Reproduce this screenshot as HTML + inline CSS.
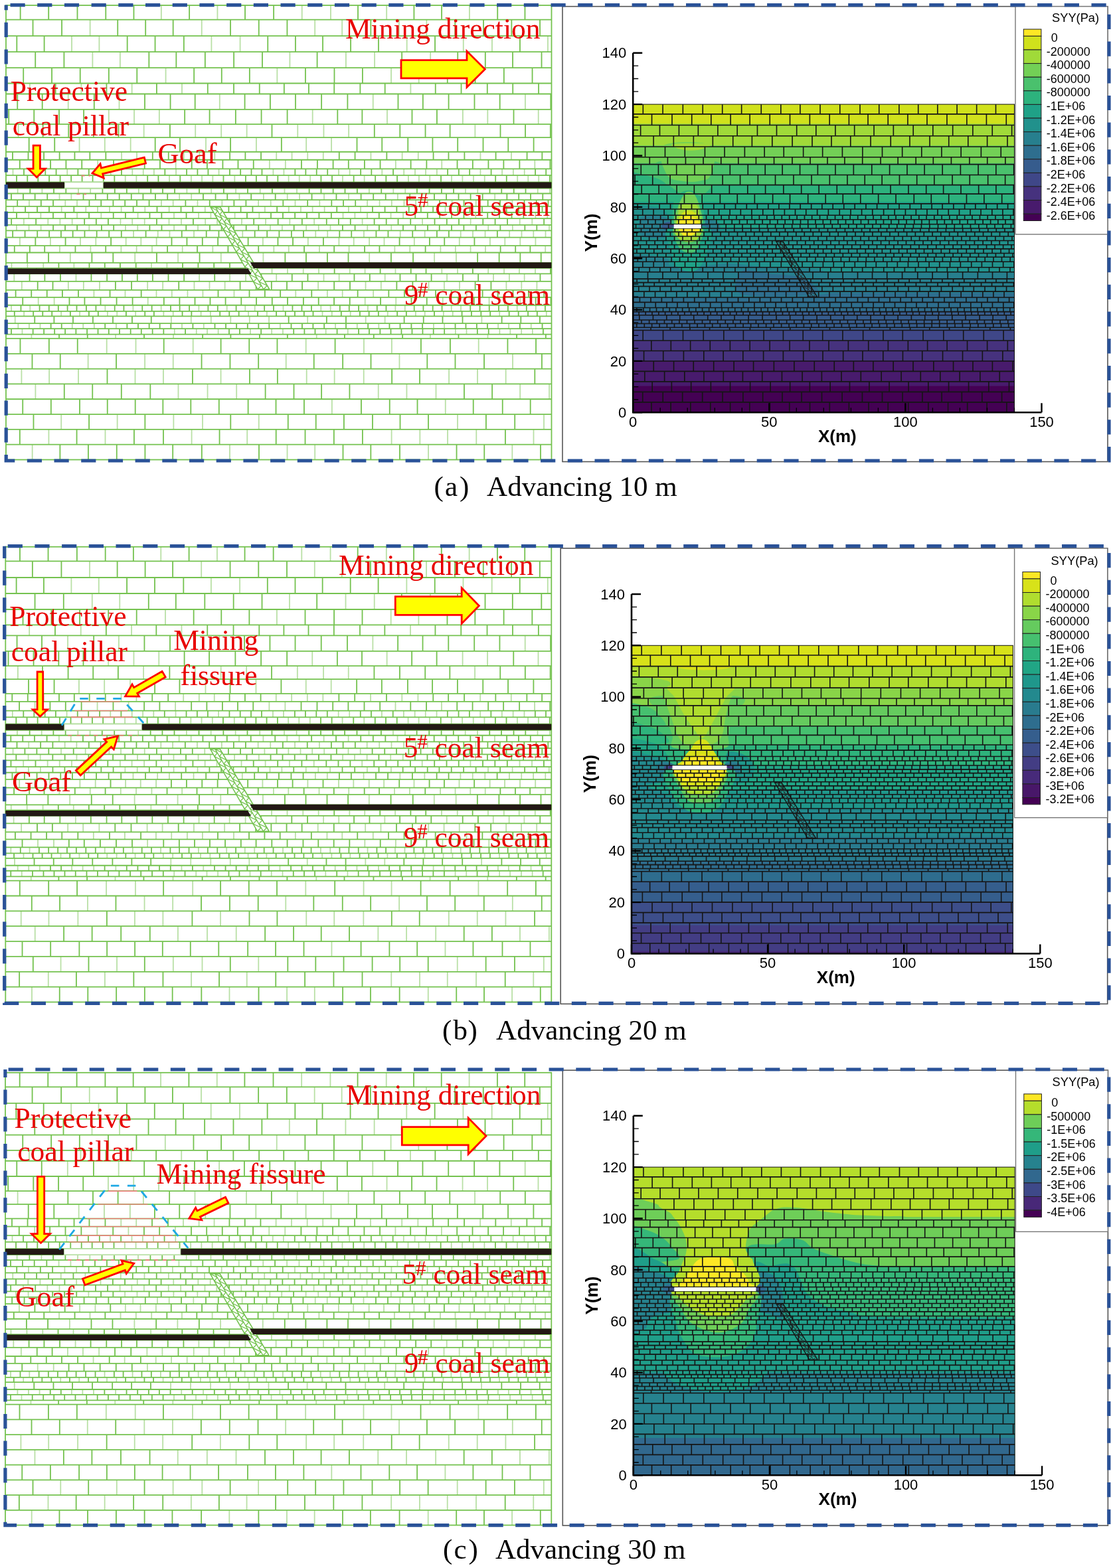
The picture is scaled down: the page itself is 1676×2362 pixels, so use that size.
<!DOCTYPE html>
<html><head><meta charset="utf-8"><title>Figure</title>
<style>html,body{margin:0;padding:0;background:#fff;}svg{display:block;}</style>
</head><body>
<svg width="1676" height="2362" viewBox="0 0 1676 2362">
<defs>
<path id="mh" vector-effect="non-scaling-stroke" d="M0 4H140M0 8H140M0 12H140M0 16H140M0 20H140M0 24H140M0 28H140M0 32H140M0 33.1H140M0 34.6H140M0 36H140M0 37.9H140M0 39.2H140M0 40.8H140M0 42.9H140M0 44.8H140M0 47.1H140M0 49.1H140M0 50.6H140M0 52H140M0 54.7H140M0 56.5H140M0 58.7H140M0 60.5H140M0 62H140M0 63.7H140M0 65.3H140M0 66.9H140M0 68.6H140M0 70.3H140M0 71.7H140M0 73.3H140M0 75.1H140M0 76.8H140M0 79.2H140M0 81.3H140M0 85.1H140M0 88.6H140M0 92.5H140M0 96.6H140M0 99.4H140M0 103.5H140M0 107.7H140M0 111.9H140M0 116.2H140"/>
<path id="ms" vector-effect="non-scaling-stroke" d="M13.87 0V4M21.12 0V4M28.42 0V4M35.69 0V4M42.81 0V4M50.25 0V4M64.93 0V4M86.49 0V4M93.62 0V4M101.06 0V4M115.64 0V4M122.75 0V4M137.19 0V4M3.55 4V8M18.16 4V8M32.88 4V8M40.39 4V8M54.8 4V8M69.31 4V8M76.78 4V8M84.16 4V8M91.5 4V8M128.15 4V8M7.07 8V12M21.32 8V12M35.68 8V12M57.65 8V12M72.39 8V12M79.54 8V12M86.73 8V12M94.07 8V12M101.15 8V12M108.39 8V12M123.2 8V12M130.58 8V12M4.3 12V16M11.56 12V16M18.92 12V16M26.03 12V16M33.18 12V16M40.28 12V16M47.43 12V16M54.67 12V16M62.14 12V16M69.28 12V16M76.51 12V16M91.17 12V16M98.46 12V16M105.58 12V16M119.93 12V16M127.43 12V16M134.58 12V16M14.96 16V20M22.2 16V20M29.62 16V20M37.04 16V20M66.57 16V20M73.88 16V20M80.97 16V20M88.18 16V20M117.59 16V20M124.77 16V20M25.99 20V24M47.88 20V24M62.54 20V24M69.68 20V24M99.04 20V24M106.18 20V24M135.71 20V24M6.73 24V28M13.93 24V28M28.3 24V28M50.2 24V28M57.51 24V28M64.79 24V28M79.03 24V28M86.43 24V28M93.65 24V28M108.1 24V28M115.29 24V28M122.71 24V28M137.52 24V28M3.66 28V32M11.05 28V32M18.36 28V32M40.51 28V32M55.15 28V32M62.42 28V32M69.61 28V32M84.46 28V32M106.5 28V32M114 28V32M128.74 28V32M136.01 28V32M13.64 32V33.1M20.92 32V33.1M35.45 32V33.1M50.47 32V33.1M57.67 32V33.1M65.09 32V33.1M72.23 32V33.1M86.9 32V33.1M94.38 32V33.1M101.77 32V33.1M116.14 32V33.1M131.07 32V33.1M138.53 32V33.1M1.36 33.1V34.6M6.93 33.1V34.6M9.74 33.1V34.6M12.47 33.1V34.6M15.19 33.1V34.6M17.96 33.1V34.6M20.81 33.1V34.6M23.61 33.1V34.6M26.38 33.1V34.6M29.14 33.1V34.6M31.98 33.1V34.6M34.73 33.1V34.6M37.6 33.1V34.6M40.45 33.1V34.6M46.03 33.1V34.6M57.26 33.1V34.6M59.98 33.1V34.6M65.47 33.1V34.6M73.83 33.1V34.6M76.59 33.1V34.6M79.33 33.1V34.6M84.97 33.1V34.6M90.5 33.1V34.6M93.21 33.1V34.6M96.01 33.1V34.6M98.76 33.1V34.6M101.48 33.1V34.6M104.21 33.1V34.6M106.93 33.1V34.6M109.7 33.1V34.6M112.51 33.1V34.6M120.97 33.1V34.6M123.85 33.1V34.6M137.86 33.1V34.6M11.53 34.6V36M14.27 34.6V36M25.43 34.6V36M31.08 34.6V36M33.91 34.6V36M36.75 34.6V36M39.48 34.6V36M42.32 34.6V36M47.96 34.6V36M53.6 34.6V36M56.42 34.6V36M59.16 34.6V36M62 34.6V36M64.81 34.6V36M67.54 34.6V36M73.2 34.6V36M76 34.6V36M78.8 34.6V36M81.66 34.6V36M87.26 34.6V36M92.91 34.6V36M98.41 34.6V36M101.15 34.6V36M104.03 34.6V36M106.88 34.6V36M115.3 34.6V36M118.01 34.6V36M120.81 34.6V36M123.55 34.6V36M131.89 34.6V36M137.63 34.6V36M7.37 36V37.9M12.34 36V37.9M17.21 36V37.9M22.31 36V37.9M27.44 36V37.9M32.37 36V37.9M37.28 36V37.9M72.54 36V37.9M82.29 36V37.9M87.25 36V37.9M102.19 36V37.9M107.15 36V37.9M112.05 36V37.9M117.17 36V37.9M127.24 36V37.9M132.13 36V37.9M137.01 36V37.9M2.18 37.9V39.2M7.02 37.9V39.2M9.42 37.9V39.2M11.8 37.9V39.2M16.51 37.9V39.2M21.29 37.9V39.2M23.66 37.9V39.2M30.83 37.9V39.2M35.66 37.9V39.2M37.98 37.9V39.2M45.26 37.9V39.2M47.61 37.9V39.2M54.91 37.9V39.2M57.31 37.9V39.2M59.76 37.9V39.2M64.59 37.9V39.2M69.38 37.9V39.2M71.72 37.9V39.2M74.13 37.9V39.2M76.49 37.9V39.2M78.82 37.9V39.2M86.03 37.9V39.2M90.82 37.9V39.2M93.16 37.9V39.2M95.58 37.9V39.2M100.41 37.9V39.2M102.74 37.9V39.2M109.92 37.9V39.2M117.01 37.9V39.2M119.45 37.9V39.2M121.91 37.9V39.2M124.27 37.9V39.2M129.12 37.9V39.2M131.51 37.9V39.2M133.97 37.9V39.2M136.31 37.9V39.2M3.83 39.2V40.8M8.62 39.2V40.8M11.04 39.2V40.8M13.43 39.2V40.8M15.78 39.2V40.8M18.15 39.2V40.8M20.61 39.2V40.8M23.08 39.2V40.8M27.9 39.2V40.8M30.24 39.2V40.8M34.98 39.2V40.8M37.43 39.2V40.8M42.26 39.2V40.8M44.59 39.2V40.8M47.05 39.2V40.8M51.87 39.2V40.8M54.33 39.2V40.8M59.07 39.2V40.8M66.32 39.2V40.8M68.68 39.2V40.8M73.53 39.2V40.8M75.92 39.2V40.8M78.39 39.2V40.8M85.69 39.2V40.8M88.07 39.2V40.8M90.51 39.2V40.8M95.23 39.2V40.8M97.56 39.2V40.8M104.76 39.2V40.8M107.1 39.2V40.8M109.53 39.2V40.8M111.89 39.2V40.8M119.17 39.2V40.8M121.61 39.2V40.8M124.02 39.2V40.8M126.46 39.2V40.8M128.82 39.2V40.8M133.58 39.2V40.8M138.37 39.2V40.8M4.3 40.8V42.9M16.27 40.8V42.9M20.18 40.8V42.9M24.29 40.8V42.9M28.39 40.8V42.9M32.48 40.8V42.9M40.53 40.8V42.9M44.55 40.8V42.9M48.49 40.8V42.9M52.4 40.8V42.9M56.34 40.8V42.9M60.38 40.8V42.9M64.26 40.8V42.9M68.3 40.8V42.9M72.26 40.8V42.9M76.33 40.8V42.9M80.22 40.8V42.9M84.2 40.8V42.9M88.23 40.8V42.9M96.13 40.8V42.9M104.04 40.8V42.9M108 40.8V42.9M116.06 40.8V42.9M120.11 40.8V42.9M135.94 40.8V42.9M139.83 40.8V42.9M2.49 42.9V44.8M6.52 42.9V44.8M10.52 42.9V44.8M14.47 42.9V44.8M18.57 42.9V44.8M26.68 42.9V44.8M34.71 42.9V44.8M54.45 42.9V44.8M62.46 42.9V44.8M66.44 42.9V44.8M70.41 42.9V44.8M78.44 42.9V44.8M90.26 42.9V44.8M98.22 42.9V44.8M102.24 42.9V44.8M106.28 42.9V44.8M110.26 42.9V44.8M114.29 42.9V44.8M122.3 42.9V44.8M126.22 42.9V44.8M130.12 42.9V44.8M134.11 42.9V44.8M138.09 42.9V44.8M8.13 44.8V47.1M12.02 44.8V47.1M28.1 44.8V47.1M32.22 44.8V47.1M44.35 44.8V47.1M60.09 44.8V47.1M64.19 44.8V47.1M68.14 44.8V47.1M72.09 44.8V47.1M76.02 44.8V47.1M84.22 44.8V47.1M88.28 44.8V47.1M100.27 44.8V47.1M104.36 44.8V47.1M120.42 44.8V47.1M124.48 44.8V47.1M6.06 47.1V49.1M9.95 47.1V49.1M13.97 47.1V49.1M21.89 47.1V49.1M25.93 47.1V49.1M29.81 47.1V49.1M33.71 47.1V49.1M37.65 47.1V49.1M41.67 47.1V49.1M45.7 47.1V49.1M53.55 47.1V49.1M65.52 47.1V49.1M73.41 47.1V49.1M77.45 47.1V49.1M89.38 47.1V49.1M93.36 47.1V49.1M101.14 47.1V49.1M105.24 47.1V49.1M109.17 47.1V49.1M117.25 47.1V49.1M121.2 47.1V49.1M137.1 47.1V49.1M3.88 49.1V50.6M7.81 49.1V50.6M19.87 49.1V50.6M23.88 49.1V50.6M27.95 49.1V50.6M36.01 49.1V50.6M40.1 49.1V50.6M44.04 49.1V50.6M52.16 49.1V50.6M56.25 49.1V50.6M84.3 49.1V50.6M96.05 49.1V50.6M103.91 49.1V50.6M107.8 49.1V50.6M119.79 49.1V50.6M139.74 49.1V50.6M13.54 50.6V52M21.38 50.6V52M25.36 50.6V52M29.3 50.6V52M33.35 50.6V52M45.34 50.6V52M49.32 50.6V52M53.38 50.6V52M57.43 50.6V52M69.19 50.6V52M77.23 50.6V52M81.23 50.6V52M85.3 50.6V52M89.3 50.6V52M93.38 50.6V52M97.48 50.6V52M105.41 50.6V52M109.45 50.6V52M121.55 50.6V52M133.31 50.6V52M5.43 52V54.7M10.91 52V54.7M22.05 52V54.7M27.49 52V54.7M38.68 52V54.7M49.69 52V54.7M60.59 52V54.7M71.64 52V54.7M77.02 52V54.7M82.47 52V54.7M87.85 52V54.7M98.83 52V54.7M104.48 52V54.7M121.02 52V54.7M126.56 52V54.7M131.97 52V54.7M137.31 52V54.7M2.18 54.7V56.5M6.11 54.7V56.5M9.92 54.7V56.5M17.8 54.7V56.5M25.6 54.7V56.5M41.43 54.7V56.5M49.09 54.7V56.5M56.99 54.7V56.5M60.87 54.7V56.5M64.8 54.7V56.5M76.53 54.7V56.5M84.22 54.7V56.5M92.04 54.7V56.5M95.85 54.7V56.5M107.64 54.7V56.5M126.9 54.7V56.5M130.75 54.7V56.5M134.53 54.7V56.5M7.56 56.5V58.7M15.27 56.5V58.7M26.95 56.5V58.7M42.52 56.5V58.7M46.43 56.5V58.7M50.41 56.5V58.7M54.39 56.5V58.7M58.26 56.5V58.7M62.14 56.5V58.7M69.78 56.5V58.7M73.63 56.5V58.7M81.45 56.5V58.7M100.99 56.5V58.7M108.71 56.5V58.7M112.52 56.5V58.7M120.22 56.5V58.7M1.73 58.7V60.5M4.87 58.7V60.5M8.05 58.7V60.5M11.1 58.7V60.5M14.13 58.7V60.5M17.15 58.7V60.5M20.19 58.7V60.5M23.29 58.7V60.5M26.45 58.7V60.5M29.62 58.7V60.5M35.89 58.7V60.5M45.12 58.7V60.5M51.42 58.7V60.5M54.61 58.7V60.5M63.85 58.7V60.5M67.01 58.7V60.5M70.11 58.7V60.5M73.26 58.7V60.5M76.35 58.7V60.5M85.6 58.7V60.5M88.66 58.7V60.5M95 58.7V60.5M98.07 58.7V60.5M104.34 58.7V60.5M110.59 58.7V60.5M113.65 58.7V60.5M126.09 58.7V60.5M12.12 60.5V62M15.18 60.5V62M18.26 60.5V62M24.53 60.5V62M27.64 60.5V62M36.88 60.5V62M39.96 60.5V62M46.23 60.5V62M52.31 60.5V62M55.32 60.5V62M58.45 60.5V62M61.64 60.5V62M64.81 60.5V62M73.91 60.5V62M86.39 60.5V62M89.57 60.5V62M95.76 60.5V62M101.91 60.5V62M105.06 60.5V62M108.22 60.5V62M111.24 60.5V62M114.36 60.5V62M117.49 60.5V62M120.64 60.5V62M126.86 60.5V62M133.16 60.5V62M136.22 60.5V62M1.39 62V63.7M7.7 62V63.7M20.14 62V63.7M23.15 62V63.7M26.23 62V63.7M38.68 62V63.7M48.05 62V63.7M57.38 62V63.7M63.6 62V63.7M69.81 62V63.7M75.98 62V63.7M82.27 62V63.7M85.36 62V63.7M88.41 62V63.7M94.52 62V63.7M97.6 62V63.7M100.64 62V63.7M103.83 62V63.7M110.01 62V63.7M113.13 62V63.7M116.23 62V63.7M122.41 62V63.7M125.53 62V63.7M128.68 62V63.7M138.07 62V63.7M2.73 63.7V65.3M12.1 63.7V65.3M15.22 63.7V65.3M21.31 63.7V65.3M27.56 63.7V65.3M30.66 63.7V65.3M36.89 63.7V65.3M39.94 63.7V65.3M46.28 63.7V65.3M55.58 63.7V65.3M61.86 63.7V65.3M68 63.7V65.3M71.06 63.7V65.3M74.16 63.7V65.3M77.21 63.7V65.3M80.34 63.7V65.3M83.48 63.7V65.3M95.74 63.7V65.3M105.02 63.7V65.3M108.18 63.7V65.3M111.31 63.7V65.3M114.36 63.7V65.3M117.5 63.7V65.3M123.59 63.7V65.3M126.62 63.7V65.3M129.78 63.7V65.3M132.82 63.7V65.3M4.96 65.3V66.9M8.02 65.3V66.9M11.07 65.3V66.9M17.44 65.3V66.9M32.66 65.3V66.9M38.77 65.3V66.9M44.91 65.3V66.9M47.94 65.3V66.9M54.13 65.3V66.9M57.16 65.3V66.9M60.26 65.3V66.9M63.3 65.3V66.9M69.56 65.3V66.9M84.91 65.3V66.9M94.07 65.3V66.9M97.24 65.3V66.9M100.27 65.3V66.9M103.39 65.3V66.9M106.49 65.3V66.9M109.6 65.3V66.9M115.91 65.3V66.9M119.04 65.3V66.9M122.19 65.3V66.9M128.46 65.3V66.9M131.57 65.3V66.9M137.62 65.3V66.9M2.93 66.9V68.6M9 66.9V68.6M12.11 66.9V68.6M21.38 66.9V68.6M24.41 66.9V68.6M27.51 66.9V68.6M30.54 66.9V68.6M33.58 66.9V68.6M36.74 66.9V68.6M46.08 66.9V68.6M52.27 66.9V68.6M58.52 66.9V68.6M61.59 66.9V68.6M71.12 66.9V68.6M77.4 66.9V68.6M83.56 66.9V68.6M86.58 66.9V68.6M89.68 66.9V68.6M111.29 66.9V68.6M117.52 66.9V68.6M123.67 66.9V68.6M126.8 66.9V68.6M133.02 66.9V68.6M136.11 66.9V68.6M139.15 66.9V68.6M1.36 68.6V70.3M4.42 68.6V70.3M7.44 68.6V70.3M10.61 68.6V70.3M19.86 68.6V70.3M22.98 68.6V70.3M26.04 68.6V70.3M29.09 68.6V70.3M32.17 68.6V70.3M35.18 68.6V70.3M38.34 68.6V70.3M41.45 68.6V70.3M50.61 68.6V70.3M53.78 68.6V70.3M56.8 68.6V70.3M62.92 68.6V70.3M69.14 68.6V70.3M78.49 68.6V70.3M84.78 68.6V70.3M91.11 68.6V70.3M94.28 68.6V70.3M97.43 68.6V70.3M103.65 68.6V70.3M109.92 68.6V70.3M113.01 68.6V70.3M116.15 68.6V70.3M119.23 68.6V70.3M122.31 68.6V70.3M128.56 68.6V70.3M131.6 68.6V70.3M134.64 68.6V70.3M137.75 68.6V70.3M6.19 70.3V71.7M12.28 70.3V71.7M15.39 70.3V71.7M24.78 70.3V71.7M27.92 70.3V71.7M30.99 70.3V71.7M37.19 70.3V71.7M40.22 70.3V71.7M43.3 70.3V71.7M49.6 70.3V71.7M55.88 70.3V71.7M62.03 70.3V71.7M68.32 70.3V71.7M77.82 70.3V71.7M80.86 70.3V71.7M83.96 70.3V71.7M87 70.3V71.7M90.13 70.3V71.7M96.33 70.3V71.7M105.48 70.3V71.7M108.65 70.3V71.7M111.78 70.3V71.7M114.88 70.3V71.7M124.15 70.3V71.7M127.18 70.3V71.7M130.33 70.3V71.7M133.36 70.3V71.7M7 71.7V73.3M9.96 71.7V73.3M13.03 71.7V73.3M16.01 71.7V73.3M18.99 71.7V73.3M22.06 71.7V73.3M25.14 71.7V73.3M28.16 71.7V73.3M34.14 71.7V73.3M40.18 71.7V73.3M43.26 71.7V73.3M46.34 71.7V73.3M52.27 71.7V73.3M55.34 71.7V73.3M58.39 71.7V73.3M61.33 71.7V73.3M67.24 71.7V73.3M70.17 71.7V73.3M73.15 71.7V73.3M76.07 71.7V73.3M79.13 71.7V73.3M82.08 71.7V73.3M85.05 71.7V73.3M90.93 71.7V73.3M93.97 71.7V73.3M99.86 71.7V73.3M105.86 71.7V73.3M108.9 71.7V73.3M111.98 71.7V73.3M115.06 71.7V73.3M118.02 71.7V73.3M126.92 71.7V73.3M129.88 71.7V73.3M135.76 71.7V73.3M138.76 71.7V73.3M2.73 73.3V75.1M5.5 73.3V75.1M8.23 73.3V75.1M11.09 73.3V75.1M13.91 73.3V75.1M16.73 73.3V75.1M19.53 73.3V75.1M22.25 73.3V75.1M25.01 73.3V75.1M27.84 73.3V75.1M36.33 73.3V75.1M39.1 73.3V75.1M44.7 73.3V75.1M55.81 73.3V75.1M61.51 73.3V75.1M64.23 73.3V75.1M66.98 73.3V75.1M69.76 73.3V75.1M80.85 73.3V75.1M83.68 73.3V75.1M89.24 73.3V75.1M94.78 73.3V75.1M97.54 73.3V75.1M100.39 73.3V75.1M111.63 73.3V75.1M125.63 73.3V75.1M128.46 73.3V75.1M139.57 73.3V75.1M4.6 75.1V76.8M7.33 75.1V76.8M10.11 75.1V76.8M12.88 75.1V76.8M18.47 75.1V76.8M21.27 75.1V76.8M24.15 75.1V76.8M29.65 75.1V76.8M40.79 75.1V76.8M46.37 75.1V76.8M49.15 75.1V76.8M51.88 75.1V76.8M57.42 75.1V76.8M60.19 75.1V76.8M62.97 75.1V76.8M65.69 75.1V76.8M74.19 75.1V76.8M76.92 75.1V76.8M79.71 75.1V76.8M82.52 75.1V76.8M91.03 75.1V76.8M93.79 75.1V76.8M99.37 75.1V76.8M113.35 75.1V76.8M116.2 75.1V76.8M118.98 75.1V76.8M124.51 75.1V76.8M135.84 75.1V76.8M138.59 75.1V76.8M3.54 76.8V79.2M11.43 76.8V79.2M15.41 76.8V79.2M19.47 76.8V79.2M27.62 76.8V79.2M35.57 76.8V79.2M39.53 76.8V79.2M47.67 76.8V79.2M51.62 76.8V79.2M55.63 76.8V79.2M59.56 76.8V79.2M63.52 76.8V79.2M75.83 76.8V79.2M79.91 76.8V79.2M83.95 76.8V79.2M87.9 76.8V79.2M92.01 76.8V79.2M96.04 76.8V79.2M103.89 76.8V79.2M107.94 76.8V79.2M115.81 76.8V79.2M119.78 76.8V79.2M123.8 76.8V79.2M127.71 76.8V79.2M131.8 76.8V79.2M139.65 76.8V79.2M1.7 79.2V81.3M5.71 79.2V81.3M9.73 79.2V81.3M13.74 79.2V81.3M17.63 79.2V81.3M21.53 79.2V81.3M25.62 79.2V81.3M37.63 79.2V81.3M41.71 79.2V81.3M57.45 79.2V81.3M61.42 79.2V81.3M65.45 79.2V81.3M85.51 79.2V81.3M89.57 79.2V81.3M97.71 79.2V81.3M109.68 79.2V81.3M113.58 79.2V81.3M117.66 79.2V81.3M125.7 79.2V81.3M133.71 79.2V81.3M137.59 79.2V81.3M5.91 81.3V85.1M12.48 81.3V85.1M38.29 81.3V85.1M44.65 81.3V85.1M57.62 81.3V85.1M70.7 81.3V85.1M90.07 81.3V85.1M96.5 81.3V85.1M103.15 81.3V85.1M109.48 81.3V85.1M115.92 81.3V85.1M122.45 81.3V85.1M128.89 81.3V85.1M135.42 81.3V85.1M9.49 85.1V88.6M16.06 85.1V88.6M22.47 85.1V88.6M28.88 85.1V88.6M42.08 85.1V88.6M68.25 85.1V88.6M94.55 85.1V88.6M101.11 85.1V88.6M107.63 85.1V88.6M113.95 85.1V88.6M126.88 85.1V88.6M133.28 85.1V88.6M139.72 85.1V88.6M0.72 88.6V92.5M7.2 88.6V92.5M13.63 88.6V92.5M19.96 88.6V92.5M45.87 88.6V92.5M52.25 88.6V92.5M58.94 88.6V92.5M65.54 88.6V92.5M72.19 88.6V92.5M85.09 88.6V92.5M91.41 88.6V92.5M104.21 88.6V92.5M110.59 88.6V92.5M130.29 88.6V92.5M2.94 92.5V96.6M9.32 92.5V96.6M22.63 92.5V96.6M35.62 92.5V96.6M42.19 92.5V96.6M48.52 92.5V96.6M61.28 92.5V96.6M67.81 92.5V96.6M74.3 92.5V96.6M80.97 92.5V96.6M87.66 92.5V96.6M100.63 92.5V96.6M107 92.5V96.6M113.6 92.5V96.6M120.23 92.5V96.6M126.74 92.5V96.6M139.8 92.5V96.6M12.72 96.6V99.4M25.81 96.6V99.4M38.67 96.6V99.4M51.77 96.6V99.4M58.46 96.6V99.4M65.06 96.6V99.4M71.38 96.6V99.4M77.7 96.6V99.4M84.23 96.6V99.4M90.9 96.6V99.4M97.26 96.6V99.4M110.22 96.6V99.4M116.83 96.6V99.4M123.52 96.6V99.4M130.07 96.6V99.4M136.69 96.6V99.4M4.47 99.4V103.5M11.77 99.4V103.5M19.04 99.4V103.5M26.39 99.4V103.5M33.62 99.4V103.5M48.26 99.4V103.5M55.35 99.4V103.5M62.52 99.4V103.5M76.85 99.4V103.5M84.27 99.4V103.5M91.5 99.4V103.5M113.29 99.4V103.5M120.42 99.4V103.5M127.79 99.4V103.5M135.07 99.4V103.5M7.54 103.5V107.7M14.9 103.5V107.7M36.7 103.5V107.7M43.69 103.5V107.7M51.1 103.5V107.7M58.48 103.5V107.7M65.78 103.5V107.7M79.86 103.5V107.7M101.6 103.5V107.7M115.93 103.5V107.7M123.01 103.5V107.7M130.04 103.5V107.7M137.45 103.5V107.7M2.78 107.7V111.9M9.82 107.7V111.9M31.13 107.7V111.9M38.27 107.7V111.9M45.65 107.7V111.9M67.19 107.7V111.9M74.29 107.7V111.9M81.3 107.7V111.9M88.46 107.7V111.9M95.6 107.7V111.9M110.1 107.7V111.9M131.9 107.7V111.9M6.91 111.9V116.2M14.33 111.9V116.2M28.67 111.9V116.2M35.82 111.9V116.2M42.89 111.9V116.2M57.61 111.9V116.2M64.89 111.9V116.2M72.16 111.9V116.2M93.62 111.9V116.2M115.25 111.9V116.2M122.54 111.9V116.2M129.75 111.9V116.2M137.03 111.9V116.2M3.69 116.2V120M10.94 116.2V120M18.32 116.2V120M25.61 116.2V120M32.8 116.2V120M47.06 116.2V120M61.36 116.2V120M68.7 116.2V120M90.33 116.2V120M104.71 116.2V120M111.81 116.2V120M126.15 116.2V120M133.18 116.2V120"/>
<path id="mw" vector-effect="non-scaling-stroke" d="M6.76 0V4M57.43 0V4M72.18 0V4M79.28 0V4M108.4 0V4M129.92 0V4M10.98 4V8M25.48 4V8M47.65 4V8M61.9 4V8M98.95 4V8M106.23 4V8M113.34 4V8M120.71 4V8M135.4 4V8M14.18 8V12M28.57 8V12M43.01 8V12M50.45 8V12M64.89 8V12M115.89 8V12M138.05 8V12M83.65 12V16M112.78 12V16M7.57 16V20M44.22 16V20M51.73 16V20M59.17 16V20M95.56 16V20M102.84 16V20M110.35 16V20M131.94 16V20M139.42 16V20M3.99 20V24M11.1 20V24M18.58 20V24M33.15 20V24M40.38 20V24M55.14 20V24M77.15 20V24M84.3 20V24M91.81 20V24M113.69 20V24M121 20V24M128.27 20V24M21.07 24V28M35.64 24V28M42.9 24V28M71.87 24V28M100.97 24V28M130.04 24V28M25.85 28V32M33.32 28V32M48.01 28V32M76.98 28V32M91.85 28V32M99 28V32M121.29 28V32M6.55 32V33.1M28.14 32V33.1M42.96 32V33.1M79.71 32V33.1M108.88 32V33.1M123.64 32V33.1M4.17 33.1V34.6M43.25 33.1V34.6M48.87 33.1V34.6M51.64 33.1V34.6M54.47 33.1V34.6M62.71 33.1V34.6M68.2 33.1V34.6M71.06 33.1V34.6M82.09 33.1V34.6M87.73 33.1V34.6M115.35 33.1V34.6M118.19 33.1V34.6M126.69 33.1V34.6M129.41 33.1V34.6M132.28 33.1V34.6M135.12 33.1V34.6M3.13 34.6V36M5.95 34.6V36M8.78 34.6V36M17 34.6V36M19.81 34.6V36M22.64 34.6V36M28.28 34.6V36M45.16 34.6V36M50.75 34.6V36M70.37 34.6V36M84.54 34.6V36M90.12 34.6V36M95.66 34.6V36M109.74 34.6V36M112.5 34.6V36M126.31 34.6V36M129.03 34.6V36M134.76 34.6V36M2.34 36V37.9M42.41 36V37.9M47.51 36V37.9M52.63 36V37.9M57.65 36V37.9M62.51 36V37.9M67.5 36V37.9M77.4 36V37.9M92.32 36V37.9M97.25 36V37.9M122.09 36V37.9M4.63 37.9V39.2M14.17 37.9V39.2M18.93 37.9V39.2M26.05 37.9V39.2M28.5 37.9V39.2M33.26 37.9V39.2M40.45 37.9V39.2M42.9 37.9V39.2M50.04 37.9V39.2M52.47 37.9V39.2M62.22 37.9V39.2M66.95 37.9V39.2M81.21 37.9V39.2M83.64 37.9V39.2M88.4 37.9V39.2M97.95 37.9V39.2M105.13 37.9V39.2M107.49 37.9V39.2M112.28 37.9V39.2M114.65 37.9V39.2M126.66 37.9V39.2M138.69 37.9V39.2M1.37 39.2V40.8M6.18 39.2V40.8M25.46 39.2V40.8M32.62 39.2V40.8M39.82 39.2V40.8M49.49 39.2V40.8M56.7 39.2V40.8M61.4 39.2V40.8M63.86 39.2V40.8M71.15 39.2V40.8M80.83 39.2V40.8M83.28 39.2V40.8M92.86 39.2V40.8M99.93 39.2V40.8M102.39 39.2V40.8M114.31 39.2V40.8M116.74 39.2V40.8M131.17 39.2V40.8M135.97 39.2V40.8M8.3 40.8V42.9M12.38 40.8V42.9M36.42 40.8V42.9M92.15 40.8V42.9M100.08 40.8V42.9M112.09 40.8V42.9M123.99 40.8V42.9M127.98 40.8V42.9M131.95 40.8V42.9M22.57 42.9V44.8M30.59 42.9V44.8M38.6 42.9V44.8M42.57 42.9V44.8M46.6 42.9V44.8M50.52 42.9V44.8M58.54 42.9V44.8M74.35 42.9V44.8M82.46 42.9V44.8M86.35 42.9V44.8M94.27 42.9V44.8M118.23 42.9V44.8M4.06 44.8V47.1M15.99 44.8V47.1M19.91 44.8V47.1M24.03 44.8V47.1M36.33 44.8V47.1M40.25 44.8V47.1M48.31 44.8V47.1M52.23 44.8V47.1M56.18 44.8V47.1M80.12 44.8V47.1M92.29 44.8V47.1M96.26 44.8V47.1M108.48 44.8V47.1M112.46 44.8V47.1M116.4 44.8V47.1M128.4 44.8V47.1M132.3 44.8V47.1M136.24 44.8V47.1M2.1 47.1V49.1M17.98 47.1V49.1M49.61 47.1V49.1M57.45 47.1V49.1M61.54 47.1V49.1M69.4 47.1V49.1M81.55 47.1V49.1M85.49 47.1V49.1M97.26 47.1V49.1M113.17 47.1V49.1M125.09 47.1V49.1M129.16 47.1V49.1M133.04 47.1V49.1M11.77 49.1V50.6M15.82 49.1V50.6M31.9 49.1V50.6M48.1 49.1V50.6M60.19 49.1V50.6M64.22 49.1V50.6M68.26 49.1V50.6M72.25 49.1V50.6M76.3 49.1V50.6M80.28 49.1V50.6M88.23 49.1V50.6M92.13 49.1V50.6M99.95 49.1V50.6M111.85 49.1V50.6M115.89 49.1V50.6M123.76 49.1V50.6M127.83 49.1V50.6M131.73 49.1V50.6M135.83 49.1V50.6M1.44 50.6V52M5.52 50.6V52M9.59 50.6V52M17.45 50.6V52M37.31 50.6V52M41.31 50.6V52M61.36 50.6V52M65.26 50.6V52M73.11 50.6V52M101.41 50.6V52M113.52 50.6V52M117.58 50.6V52M125.52 50.6V52M129.43 50.6V52M137.25 50.6V52M16.5 52V54.7M33.1 52V54.7M44.16 52V54.7M55.18 52V54.7M66.02 52V54.7M93.25 52V54.7M109.94 52V54.7M115.54 52V54.7M13.8 54.7V56.5M21.71 54.7V56.5M29.55 54.7V56.5M33.51 54.7V56.5M37.49 54.7V56.5M45.28 54.7V56.5M53.06 54.7V56.5M68.74 54.7V56.5M72.56 54.7V56.5M80.43 54.7V56.5M88.04 54.7V56.5M99.76 54.7V56.5M103.66 54.7V56.5M111.52 54.7V56.5M115.35 54.7V56.5M119.22 54.7V56.5M123.04 54.7V56.5M138.42 54.7V56.5M3.56 56.5V58.7M11.4 56.5V58.7M19.09 56.5V58.7M23.06 56.5V58.7M30.79 56.5V58.7M34.65 56.5V58.7M38.63 56.5V58.7M65.93 56.5V58.7M77.51 56.5V58.7M85.45 56.5V58.7M89.25 56.5V58.7M93.24 56.5V58.7M97.06 56.5V58.7M104.78 56.5V58.7M116.36 56.5V58.7M124.22 56.5V58.7M128.04 56.5V58.7M131.96 56.5V58.7M135.9 56.5V58.7M139.87 56.5V58.7M32.73 58.7V60.5M38.98 58.7V60.5M42 58.7V60.5M48.24 58.7V60.5M57.71 58.7V60.5M60.72 58.7V60.5M79.46 58.7V60.5M82.52 58.7V60.5M91.85 58.7V60.5M101.18 58.7V60.5M107.48 58.7V60.5M116.69 58.7V60.5M119.81 58.7V60.5M122.97 58.7V60.5M129.21 58.7V60.5M132.33 58.7V60.5M135.37 58.7V60.5M138.47 58.7V60.5M2.72 60.5V62M5.89 60.5V62M8.97 60.5V62M21.35 60.5V62M30.67 60.5V62M33.79 60.5V62M43.14 60.5V62M49.26 60.5V62M67.82 60.5V62M70.87 60.5V62M77.06 60.5V62M80.23 60.5V62M83.25 60.5V62M92.75 60.5V62M98.89 60.5V62M123.77 60.5V62M130.01 60.5V62M139.41 60.5V62M4.58 62V63.7M10.79 62V63.7M13.87 62V63.7M16.98 62V63.7M29.39 62V63.7M32.41 62V63.7M35.57 62V63.7M41.84 62V63.7M44.98 62V63.7M51.16 62V63.7M54.2 62V63.7M60.5 62V63.7M66.65 62V63.7M72.83 62V63.7M79.1 62V63.7M91.45 62V63.7M106.86 62V63.7M119.24 62V63.7M131.86 62V63.7M135.02 62V63.7M5.84 63.7V65.3M8.93 63.7V65.3M18.25 63.7V65.3M24.43 63.7V65.3M33.84 63.7V65.3M43.12 63.7V65.3M49.44 63.7V65.3M52.56 63.7V65.3M58.73 63.7V65.3M64.98 63.7V65.3M86.49 63.7V65.3M89.54 63.7V65.3M92.71 63.7V65.3M98.77 63.7V65.3M101.93 63.7V65.3M120.53 63.7V65.3M135.89 63.7V65.3M138.92 63.7V65.3M1.92 65.3V66.9M14.26 65.3V66.9M20.5 65.3V66.9M23.52 65.3V66.9M26.58 65.3V66.9M29.59 65.3V66.9M35.67 65.3V66.9M41.86 65.3V66.9M51.09 65.3V66.9M66.44 65.3V66.9M72.57 65.3V66.9M75.66 65.3V66.9M78.67 65.3V66.9M81.74 65.3V66.9M87.92 65.3V66.9M91.02 65.3V66.9M112.74 65.3V66.9M125.36 65.3V66.9M134.58 65.3V66.9M5.95 66.9V68.6M15.22 66.9V68.6M18.24 66.9V68.6M39.86 66.9V68.6M42.89 66.9V68.6M49.16 66.9V68.6M55.45 66.9V68.6M64.78 66.9V68.6M67.95 66.9V68.6M74.22 66.9V68.6M80.49 66.9V68.6M92.72 66.9V68.6M95.87 66.9V68.6M98.99 66.9V68.6M102.16 66.9V68.6M105.18 66.9V68.6M108.23 66.9V68.6M114.47 66.9V68.6M120.61 66.9V68.6M129.92 66.9V68.6M13.72 68.6V70.3M16.76 68.6V70.3M44.51 68.6V70.3M47.58 68.6V70.3M59.89 68.6V70.3M66.1 68.6V70.3M72.21 68.6V70.3M75.33 68.6V70.3M81.64 68.6V70.3M87.94 68.6V70.3M100.53 68.6V70.3M106.8 68.6V70.3M125.46 68.6V70.3M3 70.3V71.7M9.27 70.3V71.7M18.57 70.3V71.7M21.68 70.3V71.7M34.06 70.3V71.7M46.42 70.3V71.7M52.69 70.3V71.7M58.99 70.3V71.7M65.22 70.3V71.7M71.49 70.3V71.7M74.65 70.3V71.7M93.2 70.3V71.7M99.41 70.3V71.7M102.47 70.3V71.7M117.93 70.3V71.7M121.04 70.3V71.7M136.46 70.3V71.7M139.58 70.3V71.7M1.06 71.7V73.3M4.03 71.7V73.3M31.08 71.7V73.3M37.21 71.7V73.3M49.32 71.7V73.3M64.28 71.7V73.3M87.96 71.7V73.3M96.93 71.7V73.3M102.92 71.7V73.3M120.95 71.7V73.3M123.91 71.7V73.3M132.82 71.7V73.3M30.63 73.3V75.1M33.47 73.3V75.1M41.93 73.3V75.1M47.53 73.3V75.1M50.29 73.3V75.1M53.06 73.3V75.1M58.68 73.3V75.1M72.53 73.3V75.1M75.28 73.3V75.1M78.09 73.3V75.1M86.4 73.3V75.1M91.97 73.3V75.1M103.26 73.3V75.1M105.99 73.3V75.1M108.77 73.3V75.1M114.36 73.3V75.1M117.15 73.3V75.1M119.98 73.3V75.1M122.83 73.3V75.1M131.26 73.3V75.1M134 73.3V75.1M136.72 73.3V75.1M1.79 75.1V76.8M15.72 75.1V76.8M26.91 75.1V76.8M32.43 75.1V76.8M35.23 75.1V76.8M37.98 75.1V76.8M43.64 75.1V76.8M54.63 75.1V76.8M68.58 75.1V76.8M71.31 75.1V76.8M85.39 75.1V76.8M88.21 75.1V76.8M96.51 75.1V76.8M102.12 75.1V76.8M104.98 75.1V76.8M107.72 75.1V76.8M110.58 75.1V76.8M121.76 75.1V76.8M127.32 75.1V76.8M130.18 75.1V76.8M133.05 75.1V76.8M7.53 76.8V79.2M23.55 76.8V79.2M31.57 76.8V79.2M43.57 76.8V79.2M67.63 76.8V79.2M71.72 76.8V79.2M100.01 76.8V79.2M111.84 76.8V79.2M135.71 76.8V79.2M29.67 79.2V81.3M33.58 79.2V81.3M45.63 79.2V81.3M49.65 79.2V81.3M53.56 79.2V81.3M69.4 79.2V81.3M73.38 79.2V81.3M77.41 79.2V81.3M81.42 79.2V81.3M93.64 79.2V81.3M101.68 79.2V81.3M105.79 79.2V81.3M121.76 79.2V81.3M129.69 79.2V81.3M18.84 81.3V85.1M25.36 81.3V85.1M31.98 81.3V85.1M51.3 81.3V85.1M64.24 81.3V85.1M77.06 81.3V85.1M83.52 81.3V85.1M3.17 85.1V88.6M35.39 85.1V88.6M48.61 85.1V88.6M55.25 85.1V88.6M61.8 85.1V88.6M74.86 85.1V88.6M81.54 85.1V88.6M87.96 85.1V88.6M120.38 85.1V88.6M26.38 88.6V92.5M32.9 88.6V92.5M39.34 88.6V92.5M78.68 88.6V92.5M97.82 88.6V92.5M117.23 88.6V92.5M123.61 88.6V92.5M136.63 88.6V92.5M15.97 92.5V96.6M29.06 92.5V96.6M54.84 92.5V96.6M94.2 92.5V96.6M133.26 92.5V96.6M6.11 96.6V99.4M19.32 96.6V99.4M32.32 96.6V99.4M45.16 96.6V99.4M103.85 96.6V99.4M41 99.4V103.5M69.59 99.4V103.5M98.85 99.4V103.5M105.95 99.4V103.5M22.22 103.5V107.7M29.29 103.5V107.7M72.84 103.5V107.7M87.24 103.5V107.7M94.6 103.5V107.7M108.93 103.5V107.7M16.88 107.7V111.9M23.93 107.7V111.9M52.73 107.7V111.9M60.09 107.7V111.9M102.88 107.7V111.9M117.38 107.7V111.9M124.74 107.7V111.9M139.06 107.7V111.9M21.58 111.9V116.2M50.23 111.9V116.2M79.28 111.9V116.2M86.26 111.9V116.2M100.86 111.9V116.2M107.94 111.9V116.2M39.85 116.2V120M54.27 116.2V120M75.96 116.2V120M83.33 116.2V120M97.68 116.2V120M118.94 116.2V120"/>
</defs>
<rect width="1676" height="2362" fill="#fff"/>
<g fill="none" stroke-width="1.8" transform="matrix(5.86786 0 0 -5.70417 9 692.5)">
<use href="#mw" stroke="#b9e0a6"/><use href="#ms" stroke="#74c24f"/><use href="#mh" stroke="#74c24f"/>
</g>
<rect x="9" y="8" width="821.5" height="684.5" fill="none" stroke="#74c24f" stroke-width="1.8"/>
<polygon points="317.1,312 331.7,312 405.7,435.8 388.1,435.8" fill="#fff" stroke="#74c24f" stroke-width="1.6"/>
<path d="M324.4 312L327.7 317.7L331 323.3L334.3 328.9L337.6 334.5L340.9 340.2L344.2 345.8L347.5 351.4L350.7 357L354 362.7L357.3 368.3L360.6 373.9L363.9 379.5L367.2 385.2L370.5 390.8L373.8 396.4L377.1 402.1L380.4 407.7L383.7 413.3L387 418.9L390.3 424.6L393.6 430.2L396.9 435.8M317.1 312L327.7 317.7L323.5 323.3L334.3 328.9L330 334.5L340.9 340.2L336.4 345.8L347.5 351.4L342.9 357L354 362.7L349.3 368.3L360.6 373.9L355.8 379.5L367.2 385.2L362.2 390.8L373.8 396.4L368.7 402.1L380.4 407.7L375.2 413.3L387 418.9L381.6 424.6L393.6 430.2L388.1 435.8M324.4 312L335.1 317.7L331 323.3L341.8 328.9L337.6 334.5L348.5 340.2L344.2 345.8L355.3 351.4L350.7 357L362 362.7L357.3 368.3L368.7 373.9L363.9 379.5L375.4 385.2L370.5 390.8L382.1 396.4L377.1 402.1L388.9 407.7L383.7 413.3L395.6 418.9L390.3 424.6L402.3 430.2L396.9 435.8" stroke="#74c24f" stroke-width="1.3" fill="none"/>
<rect x="97" y="274.4" width="58.7" height="9.1" fill="#fff" stroke="#b9e0a6" stroke-width="1.8"/>
<rect x="9" y="274.4" width="88" height="9.1" fill="#231815"/>
<rect x="155.7" y="274.4" width="674.8" height="9.1" fill="#231815"/>
<polygon points="9,404.4 373.6,404.4 378.5,413 9,413" fill="#231815"/>
<polygon points="376.8,395.3 830.5,395.3 830.5,403.9 381.9,403.9" fill="#231815"/>
<path d="M122.5 264.6H136M115.4 292.3H130" stroke="#f07878" stroke-width="1.8" stroke-dasharray="5 6" fill="none"/>
<text x="519.9" y="57.7" font-family="Liberation Serif, 'Times New Roman', serif" font-size="43.5" fill="#e80000">Mining direction</text>
<polygon points="604,117.8 703,117.8 703,131.4 730.3,104.2 703,77 703,90.6 604,90.6" fill="#ffff00" stroke="#ff0000" stroke-width="2.8" stroke-linejoin="miter"/>
<text x="15.7" y="151.9" font-family="Liberation Serif, 'Times New Roman', serif" font-size="43.5" fill="#e80000">Protective</text>
<text x="18.8" y="204.2" font-family="Liberation Serif, 'Times New Roman', serif" font-size="43.5" fill="#e80000">coal pillar</text>
<text x="237.6" y="246.0" font-family="Liberation Serif, 'Times New Roman', serif" font-size="44.5" fill="#e80000">Goaf</text>
<text x="608.5" y="324.6" font-family="Liberation Serif, 'Times New Roman', serif" font-size="43.5" fill="#e80000">5</text><text x="629" y="311.8" font-family="Liberation Serif, 'Times New Roman', serif" font-size="31" fill="#e80000">#</text><text x="655.3" y="324.6" font-family="Liberation Serif, 'Times New Roman', serif" font-size="43.5" fill="#e80000">coal seam</text>
<text x="608.5" y="459.3" font-family="Liberation Serif, 'Times New Roman', serif" font-size="43.5" fill="#e80000">9</text><text x="629" y="446.5" font-family="Liberation Serif, 'Times New Roman', serif" font-size="31" fill="#e80000">#</text><text x="655.3" y="459.3" font-family="Liberation Serif, 'Times New Roman', serif" font-size="43.5" fill="#e80000">coal seam</text>
<polygon points="50.1,219.1 50.1,254.1 42.4,254.1 55.3,267.1 68.1,254.1 60.4,254.1 60.4,219.1" fill="#ffff00" stroke="#ff0000" stroke-width="2.8" stroke-linejoin="miter"/>
<polygon points="217.3,237.2 152.5,253.1 151,246.8 139,261 156.2,268.1 154.6,261.8 219.5,246" fill="#ffff00" stroke="#ff0000" stroke-width="2.8" stroke-linejoin="miter"/>
<rect x="847" y="9.7" width="821" height="685.8" fill="#fff" stroke="#555" stroke-width="1.6"/>
<clipPath id="clipa"><rect x="953.2" y="157.1" width="574.3" height="464.2"/></clipPath>
<g clip-path="url(#clipa)"><rect x="949.1" y="137.8" width="582.5" height="502.8" fill="#d0e11c"/><rect x="949.1" y="186.1" width="582.5" height="454.5" fill="#a0da39"/><rect x="949.1" y="219" width="582.5" height="421.6" fill="#73d056"/><rect x="949.1" y="245.7" width="582.5" height="394.9" fill="#4ac16d"/><rect x="949.1" y="277.8" width="582.5" height="362.8" fill="#2db27d"/><rect x="949.1" y="304.1" width="582.5" height="336.5" fill="#1fa187"/><rect x="949.1" y="343.2" width="582.5" height="297.4" fill="#21918c"/><rect x="949.1" y="410.5" width="582.5" height="230.1" fill="#277f8e"/><rect x="949.1" y="441.4" width="582.5" height="199.2" fill="#2e6e8e"/><rect x="949.1" y="468.5" width="582.5" height="172.1" fill="#365c8d"/><rect x="949.1" y="496.4" width="582.5" height="144.3" fill="#3f4788"/><rect x="949.1" y="513" width="582.5" height="127.6" fill="#46327e"/><rect x="949.1" y="543.2" width="582.5" height="97.5" fill="#481b6d"/><rect x="949.1" y="581.5" width="582.5" height="59.2" fill="#440154"/><path fill="#277f8e" d="M945 387.3C954.6 378.3 991.5 387 1002.4 389.2C1013.4 391.5 1001.7 398.9 1010.6 400.8C1019.5 402.8 1041.4 401.5 1055.8 400.8C1070.1 400.2 1083.1 397 1096.8 397C1110.4 397 1124.1 399.5 1137.8 400.8C1151.5 402.1 1161.7 403.4 1178.8 404.7C1195.9 406 1230.1 402.1 1240.3 408.6C1250.6 415 1289.6 437.6 1240.3 443.4C1191.1 449.2 994.2 452.7 945 443.4C895.8 434 935.4 396.3 945 387.3Z"/><path fill="#2e6e8e" d="M1117.3 408.6C1124.1 403.4 1144.6 411.1 1158.3 412.4C1172 413.7 1188.4 413.7 1199.3 416.3C1210.3 418.9 1219.8 423.4 1223.9 427.9C1228 432.4 1241.7 440.8 1223.9 443.4C1206.2 446 1135.1 449.2 1117.3 443.4C1099.5 437.6 1110.4 413.7 1117.3 408.6Z"/><path fill="#2db27d" d="M945 261.6C950.5 256.4 968.9 263.5 977.8 265.4C986.7 267.4 992.9 269.3 998.3 273.2C1003.8 277 1009.9 284.8 1010.6 288.7C1011.3 292.5 1013.4 295.1 1002.4 296.4C991.5 297.7 954.6 302.2 945 296.4C935.4 290.6 939.5 266.7 945 261.6Z"/><path fill="#21918c" d="M945 311.9C951.8 305.4 976.4 310.6 986 311.9C995.6 313.1 998.3 315.7 1002.4 319.6C1006.5 323.5 1009.3 329.9 1010.6 335.1C1012 340.2 1021.6 348 1010.6 350.5C999.7 353.1 955.9 357 945 350.5C934.1 344.1 938.2 318.3 945 311.9Z"/><path fill="#277f8e" d="M965.5 327.3C970.3 322.5 986.7 324.4 994.2 325.4C1001.7 326.4 1007.6 329.6 1010.6 333.1C1013.7 336.7 1014.7 342.5 1012.7 346.7C1010.6 350.9 1006.2 357 998.3 358.3C990.5 359.6 971 359.6 965.5 354.4C960 349.3 960.7 332.2 965.5 327.3Z"/><path fill="#277f8e" d="M1084.5 342C1084.5 340.6 1084 339 1083.1 337.6C1082.2 336.2 1080.7 334.9 1079.1 333.8C1077.4 332.8 1075.2 331.9 1073.1 331.3C1070.9 330.7 1068.4 330.4 1066 330.4C1063.7 330.4 1061.1 330.7 1058.9 331.3C1056.8 331.9 1054.6 332.8 1053 333.8C1051.3 334.9 1049.9 336.2 1049 337.6C1048.1 339 1047.5 340.6 1047.5 342C1047.5 343.5 1048.1 345.1 1049 346.5C1049.9 347.8 1051.3 349.2 1053 350.2C1054.6 351.3 1056.8 352.2 1058.9 352.8C1061.1 353.3 1063.7 353.6 1066 353.6C1068.4 353.6 1070.9 353.3 1073.1 352.8C1075.2 352.2 1077.4 351.3 1079.1 350.2C1080.7 349.2 1082.2 347.8 1083.1 346.5C1084 345.1 1084.5 343.5 1084.5 342Z"/><path fill="#365c8d" d="M1020.9 340.9C1020.9 340 1020.5 339 1019.9 338.2C1019.3 337.4 1018.4 336.6 1017.3 335.9C1016.2 335.3 1014.7 334.8 1013.3 334.4C1011.8 334.1 1010.1 333.9 1008.6 333.9C1007 333.9 1005.3 334.1 1003.9 334.4C1002.4 334.8 1001 335.3 999.9 335.9C998.8 336.6 997.8 337.4 997.2 338.2C996.6 339 996.3 340 996.3 340.9C996.3 341.8 996.6 342.7 997.2 343.5C997.8 344.4 998.8 345.2 999.9 345.8C1001 346.4 1002.4 347 1003.9 347.3C1005.3 347.6 1007 347.8 1008.6 347.8C1010.1 347.8 1011.8 347.6 1013.3 347.3C1014.7 347 1016.2 346.4 1017.3 345.8C1018.4 345.2 1019.3 344.4 1019.9 343.5C1020.5 342.7 1020.9 341.8 1020.9 340.9Z"/><path fill="#3f4788" d="M1017.2 340.9C1017.2 340.4 1017.1 339.8 1016.8 339.4C1016.6 338.9 1016.2 338.5 1015.7 338.1C1015.3 337.8 1014.7 337.5 1014.2 337.3C1013.6 337.1 1012.9 337 1012.3 337C1011.6 337 1011 337.1 1010.4 337.3C1009.8 337.5 1009.2 337.8 1008.8 338.1C1008.3 338.5 1008 338.9 1007.7 339.4C1007.5 339.8 1007.3 340.4 1007.3 340.9C1007.3 341.4 1007.5 341.9 1007.7 342.4C1008 342.8 1008.3 343.3 1008.8 343.6C1009.2 344 1009.8 344.3 1010.4 344.4C1011 344.6 1011.6 344.7 1012.3 344.7C1012.9 344.7 1013.6 344.6 1014.2 344.4C1014.7 344.3 1015.3 344 1015.7 343.6C1016.2 343.3 1016.6 342.8 1016.8 342.4C1017.1 341.9 1017.2 341.4 1017.2 340.9Z"/><path fill="#2e6e8e" d="M1068.9 341.3C1068.9 340.5 1068.6 339.7 1068.2 339C1067.7 338.4 1067 337.7 1066.2 337.2C1065.4 336.6 1064.4 336.2 1063.3 335.9C1062.2 335.6 1061 335.5 1059.9 335.5C1058.7 335.5 1057.5 335.6 1056.4 335.9C1055.3 336.2 1054.3 336.6 1053.5 337.2C1052.7 337.7 1052 338.4 1051.5 339C1051.1 339.7 1050.8 340.5 1050.8 341.3C1050.8 342 1051.1 342.8 1051.5 343.5C1052 344.2 1052.7 344.8 1053.5 345.4C1054.3 345.9 1055.3 346.3 1056.4 346.6C1057.5 346.9 1058.7 347.1 1059.9 347.1C1061 347.1 1062.2 346.9 1063.3 346.6C1064.4 346.3 1065.4 345.9 1066.2 345.4C1067 344.8 1067.7 344.2 1068.2 343.5C1068.6 342.8 1068.9 342 1068.9 341.3Z"/><path fill="#4ac16d" d="M990.1 244.2C1003.1 239.3 1066 239.3 1080.4 244.2C1094.7 249 1079.7 265.1 1076.3 273.2C1072.8 281.2 1065.3 289 1059.9 292.5C1054.4 296.1 1048.9 294.5 1043.4 294.5C1038 294.5 1033.9 296.1 1027 292.5C1020.2 289 1008.6 281.2 1002.4 273.2C996.3 265.1 977.1 249 990.1 244.2Z"/><path fill="#73d056" d="M998.3 219.4C1009.6 212.1 1060.2 212.1 1072.2 219.4C1084.1 226.8 1073.2 254.7 1070.1 263.5C1067 272.3 1060.2 270.8 1053.7 272.4C1047.2 274 1039.3 274.7 1031.1 273.2C1022.9 271.7 1009.9 272.5 1004.5 263.5C999 254.5 987 226.8 998.3 219.4Z"/><path fill="#a0da39" d="M1014.7 216.7C1022.9 215.7 1060.5 215.5 1068.1 216.7C1075.6 217.9 1064.6 222 1059.9 223.7C1055.1 225.3 1046.2 226.9 1039.3 226.8C1032.5 226.6 1022.9 224.6 1018.8 222.9C1014.7 221.2 1006.5 217.7 1014.7 216.7Z"/><path fill="#2db27d" d="M1014.7 304.1C1016.8 298 1021.2 293.5 1025 290.6C1028.7 287.7 1033.5 286.7 1037.3 286.7C1041.1 286.7 1044.1 287.7 1047.5 290.6C1051 293.5 1055.8 298 1057.8 304.1C1059.9 310.2 1059.9 321.7 1059.9 327.3C1059.9 332.9 1065.7 336 1057.8 337.8C1049.9 339.5 1020.2 339.5 1012.7 337.8C1005.2 336 1012.3 332.9 1012.7 327.3C1013 321.7 1012.7 310.2 1014.7 304.1Z"/><path fill="#73d056" d="M1020.9 311.9C1023.1 304.3 1027.6 296.4 1030.3 292.5C1033.1 288.7 1034.8 288.7 1037.3 288.7C1039.8 288.7 1042.8 288.7 1045.5 292.5C1048.2 296.4 1052 304.3 1053.7 311.9C1055.4 319.4 1061.9 333.5 1055.8 337.8C1049.6 342.1 1022.6 342.1 1016.8 337.8C1011 333.5 1018.6 319.4 1020.9 311.9Z"/><path fill="#a0da39" d="M1019.7 337.8C1025.1 340.2 1048.1 340.2 1053.7 337.8C1059.3 335.4 1054 328.2 1053.3 323.5C1052.6 318.8 1052.3 312.4 1049.6 309.5C1046.9 306.6 1041.4 306.1 1037.3 306.1C1033.2 306.1 1027.7 306.6 1025 309.5C1022.3 312.4 1021.8 318.8 1020.9 323.5C1020 328.2 1014.2 335.4 1019.7 337.8Z"/><path fill="#d0e11c" d="M1021.3 337.8C1026.2 339.5 1047.4 339.5 1052.5 337.8C1057.5 336 1053.2 330.6 1051.6 327.3C1050.1 324.1 1046.9 319.9 1043.4 318.4C1040 317 1034.6 317 1031.1 318.4C1027.7 319.9 1024.6 324.1 1022.9 327.3C1021.3 330.6 1016.4 336 1021.3 337.8Z"/><path fill="#fde725" d="M1023.8 337.8C1028.1 338.9 1046.5 339 1050.8 337.8C1055.1 336.6 1051.5 332.4 1049.6 330.4C1047.7 328.5 1042.8 326.7 1039.3 326.2C1035.9 325.7 1031.5 326.5 1029.1 327.3C1026.6 328.2 1025.5 329.5 1024.6 331.2C1023.7 332.9 1019.4 336.7 1023.8 337.8Z"/><path fill="#1fa187" d="M1006.5 344C1016.4 339 1058.5 337.7 1068.1 344C1077.6 350.2 1066.7 371.4 1064 381.5C1061.2 391.6 1056.4 400.2 1051.6 404.7C1046.9 409.2 1040.7 409.2 1035.2 408.6C1029.8 407.9 1023.3 406.6 1018.8 400.8C1014.4 395 1010.6 383.2 1008.6 373.7C1006.5 364.3 996.6 348.9 1006.5 344Z"/><path fill="#4ac16d" d="M1014.7 344C1020.9 339.6 1051.3 340.3 1057.8 344C1064.3 347.6 1055.8 360.1 1053.7 366C1051.6 371.9 1048.9 377.2 1045.5 379.5C1042.1 381.9 1037.3 381.9 1033.2 380.3C1029.1 378.7 1024 375.9 1020.9 369.9C1017.8 363.8 1008.6 348.3 1014.7 344Z"/><path fill="#a0da39" d="M1016.8 344C1022.6 341.6 1049.9 341.6 1055.8 344C1061.6 346.3 1053.7 354.9 1051.6 358.3C1049.6 361.6 1046.9 363.1 1043.4 364.1C1040 365 1034.9 365 1031.1 364.1C1027.4 363.1 1023.3 361.6 1020.9 358.3C1018.5 354.9 1011 346.3 1016.8 344Z"/><path fill="#fde725" d="M1023.8 344C1028.2 343.1 1047.3 342.9 1051.6 344C1056 345.1 1051.6 348.7 1049.6 350.5C1047.5 352.4 1042.8 354.5 1039.3 355.2C1035.9 355.8 1031.5 355.4 1029.1 354.4C1026.7 353.4 1025.9 351.1 1025 349.4C1024.1 347.6 1019.3 344.9 1023.8 344Z"/></g>
<g fill="none" stroke="#151515" stroke-width="1.6" transform="matrix(4.102 0 0 -3.868 953.2 621.3)"><use href="#mw"/><use href="#ms"/><use href="#mh"/></g>
<rect x="953.2" y="157.1" width="574.3" height="464.2" fill="none" stroke="#111" stroke-width="1"/>
<polygon points="1168.6,363.3 1178.8,363.3 1230.5,447.2 1218.2,447.2" fill="none" stroke="#111" stroke-width="1.3"/>
<path d="M1173.7 363.3L1176 367.1L1178.3 370.9L1180.6 374.8L1182.9 378.6L1185.2 382.4L1187.5 386.2L1189.8 390L1192.1 393.8L1194.4 397.6L1196.7 401.5L1199 405.3L1201.3 409.1L1203.6 412.9L1205.9 416.7L1208.2 420.5L1210.5 424.3L1212.8 428.2L1215.1 432L1217.4 435.8L1219.7 439.6L1222 443.4L1224.3 447.2M1168.6 363.3L1176 367.1L1173.1 370.9L1180.6 374.8L1177.6 378.6L1185.2 382.4L1182.1 386.2L1189.8 390L1186.6 393.8L1194.4 397.6L1191.1 401.5L1199 405.3L1195.6 409.1L1203.6 412.9L1200.1 416.7L1208.2 420.5L1204.7 424.3L1212.8 428.2L1209.2 432L1217.4 435.8L1213.7 439.6L1222 443.4L1218.2 447.2M1173.7 363.3L1181.2 367.1L1178.3 370.9L1185.9 374.8L1182.9 378.6L1190.6 382.4L1187.5 386.2L1195.3 390L1192.1 393.8L1200 397.6L1196.7 401.5L1204.7 405.3L1201.3 409.1L1209.4 412.9L1205.9 416.7L1214 420.5L1210.5 424.3L1218.7 428.2L1215.1 432L1223.4 435.8L1219.7 439.6L1228.1 443.4L1224.3 447.2" stroke="#222" stroke-width="0.9" fill="none"/>
<rect x="1014.7" y="338.2" width="41" height="5.8" fill="#fff"/>
<g stroke="#000" fill="none">
<path stroke-width="2.6" d="M953.2 79.8V621.3H1568.5"/>
<path stroke-width="2.4" d="M953.2 621.3h14M953.2 543.9h14M953.2 466.6h14M953.2 389.2h14M953.2 311.9h14M953.2 234.5h14M953.2 157.1h14M953.2 79.8h14M953.2 621.3v-14M1158.3 621.3v-14M1363.4 621.3v-14M1568.5 621.3v-14"/>
<path stroke-width="1.3" d="M953.2 602h8M953.2 582.6h8M953.2 563.3h8M953.2 524.6h8M953.2 505.3h8M953.2 485.9h8M953.2 447.2h8M953.2 427.9h8M953.2 408.6h8M953.2 369.9h8M953.2 350.5h8M953.2 331.2h8M953.2 292.5h8M953.2 273.2h8M953.2 253.8h8M953.2 215.2h8M953.2 195.8h8M953.2 176.5h8M953.2 137.8h8M953.2 118.5h8M953.2 99.1h8M994.2 621.3v-7M1035.2 621.3v-7M1076.3 621.3v-7M1117.3 621.3v-7M1199.3 621.3v-7M1240.3 621.3v-7M1281.4 621.3v-7M1322.4 621.3v-7M1404.4 621.3v-7M1445.4 621.3v-7M1486.5 621.3v-7M1527.5 621.3v-7"/>
</g>
<g font-family="Liberation Sans, Arial, sans-serif" font-size="22" fill="#000">
<text x="943.2" y="628.9" text-anchor="end">0</text>
<text x="943.2" y="551.5" text-anchor="end">20</text>
<text x="943.2" y="474.2" text-anchor="end">40</text>
<text x="943.2" y="396.8" text-anchor="end">60</text>
<text x="943.2" y="319.5" text-anchor="end">80</text>
<text x="943.2" y="242.1" text-anchor="end">100</text>
<text x="943.2" y="164.7" text-anchor="end">120</text>
<text x="943.2" y="87.4" text-anchor="end">140</text>
<text x="953.2" y="642.8" text-anchor="middle">0</text>
<text x="1158.3" y="642.8" text-anchor="middle">50</text>
<text x="1363.4" y="642.8" text-anchor="middle">100</text>
<text x="1568.5" y="642.8" text-anchor="middle">150</text>
</g>
<text x="1260.9" y="666" text-anchor="middle" font-family="Liberation Sans, Arial, sans-serif" font-weight="bold" font-size="26">X(m)</text>
<text transform="translate(899.2 350.5) rotate(-90)" text-anchor="middle" font-family="Liberation Sans, Arial, sans-serif" font-weight="bold" font-size="26">Y(m)</text>
<rect x="1529" y="9.7" width="139" height="343.3" fill="#fff" stroke="#777" stroke-width="1.4"/>
<text x="1584" y="32.7" font-family="Liberation Sans, Arial, sans-serif" font-size="18.3">SYY(Pa)</text>
<rect x="1541.3" y="44" width="26.6" height="10.4" fill="#fde725" stroke="#222" stroke-width="1"/>
<rect x="1541.3" y="54.4" width="26.6" height="20.6" fill="#d0e11c" stroke="#222" stroke-width="1"/>
<rect x="1541.3" y="75" width="26.6" height="20.6" fill="#a0da39" stroke="#222" stroke-width="1"/>
<rect x="1541.3" y="95.6" width="26.6" height="20.6" fill="#73d056" stroke="#222" stroke-width="1"/>
<rect x="1541.3" y="116.2" width="26.6" height="20.6" fill="#4ac16d" stroke="#222" stroke-width="1"/>
<rect x="1541.3" y="136.8" width="26.6" height="20.6" fill="#2db27d" stroke="#222" stroke-width="1"/>
<rect x="1541.3" y="157.4" width="26.6" height="20.6" fill="#1fa187" stroke="#222" stroke-width="1"/>
<rect x="1541.3" y="178" width="26.6" height="20.6" fill="#21918c" stroke="#222" stroke-width="1"/>
<rect x="1541.3" y="198.6" width="26.6" height="20.6" fill="#277f8e" stroke="#222" stroke-width="1"/>
<rect x="1541.3" y="219.2" width="26.6" height="20.6" fill="#2e6e8e" stroke="#222" stroke-width="1"/>
<rect x="1541.3" y="239.8" width="26.6" height="20.6" fill="#365c8d" stroke="#222" stroke-width="1"/>
<rect x="1541.3" y="260.4" width="26.6" height="20.6" fill="#3f4788" stroke="#222" stroke-width="1"/>
<rect x="1541.3" y="281" width="26.6" height="20.6" fill="#46327e" stroke="#222" stroke-width="1"/>
<rect x="1541.3" y="301.6" width="26.6" height="20.6" fill="#481b6d" stroke="#222" stroke-width="1"/>
<rect x="1541.3" y="322.2" width="26.6" height="10.3" fill="#440154" stroke="#222" stroke-width="1"/>
<g font-family="Liberation Sans, Arial, sans-serif" font-size="18">
<text x="1582.8" y="63">0</text>
<text x="1575.8" y="83.6">-200000</text>
<text x="1575.8" y="104.2">-400000</text>
<text x="1575.8" y="124.8">-600000</text>
<text x="1575.8" y="145.4">-800000</text>
<text x="1575.8" y="166">-1E+06</text>
<text x="1575.8" y="186.6">-1.2E+06</text>
<text x="1575.8" y="207.2">-1.4E+06</text>
<text x="1575.8" y="227.8">-1.6E+06</text>
<text x="1575.8" y="248.4">-1.8E+06</text>
<text x="1575.8" y="269">-2E+06</text>
<text x="1575.8" y="289.6">-2.2E+06</text>
<text x="1575.8" y="310.2">-2.4E+06</text>
<text x="1575.8" y="330.8">-2.6E+06</text>
</g>
<rect x="9.2" y="7.6" width="1660.8" height="686.4" fill="none" stroke="#2a5298" stroke-width="5.2" stroke-dasharray="22.2 18.5" stroke-dashoffset="34.4"/>
<text y="746.5" font-family="Liberation Serif, 'Times New Roman', serif" font-size="43"><tspan x="653.5">(</tspan><tspan x="670">a</tspan><tspan x="692">)</tspan></text>
<text x="733.1" y="746.5" font-family="Liberation Serif, 'Times New Roman', serif" font-size="43">Advancing 10 m</text>
<g fill="none" stroke-width="1.8" transform="matrix(5.87143 0 0 -5.71500 8.3 1509.5)">
<use href="#mw" stroke="#b9e0a6"/><use href="#ms" stroke="#74c24f"/><use href="#mh" stroke="#74c24f"/>
</g>
<rect x="8.3" y="823.7" width="822" height="685.8" fill="none" stroke="#74c24f" stroke-width="1.8"/>
<polygon points="316.6,1128.3 331.2,1128.3 405.2,1252.3 387.6,1252.3" fill="#fff" stroke="#74c24f" stroke-width="1.6"/>
<path d="M323.9 1128.3L327.2 1133.9L330.5 1139.6L333.8 1145.2L337.1 1150.9L340.4 1156.5L343.7 1162.1L347 1167.8L350.3 1173.4L353.6 1179L356.8 1184.7L360.1 1190.3L363.4 1196L366.7 1201.6L370 1207.2L373.3 1212.9L376.6 1218.5L379.9 1224.1L383.2 1229.8L386.5 1235.4L389.8 1241.1L393.1 1246.7L396.4 1252.3M316.6 1128.3L327.2 1133.9L323 1139.6L333.8 1145.2L329.5 1150.9L340.4 1156.5L335.9 1162.1L347 1167.8L342.4 1173.4L353.6 1179L348.8 1184.7L360.1 1190.3L355.3 1196L366.7 1201.6L361.8 1207.2L373.3 1212.9L368.2 1218.5L379.9 1224.1L374.7 1229.8L386.5 1235.4L381.1 1241.1L393.1 1246.7L387.6 1252.3M323.9 1128.3L334.6 1133.9L330.5 1139.6L341.3 1145.2L337.1 1150.9L348 1156.5L343.7 1162.1L354.8 1167.8L350.3 1173.4L361.5 1179L356.8 1184.7L368.2 1190.3L363.4 1196L374.9 1201.6L370 1207.2L381.7 1212.9L376.6 1218.5L388.4 1224.1L383.2 1229.8L395.1 1235.4L389.8 1241.1L401.8 1246.7L396.4 1252.3" stroke="#74c24f" stroke-width="1.3" fill="none"/>
<rect x="96.4" y="1090.6" width="117.4" height="9.1" fill="#fff" stroke="#b9e0a6" stroke-width="1.8"/>
<rect x="8.3" y="1090.6" width="88.1" height="9.1" fill="#231815"/>
<rect x="213.8" y="1090.6" width="616.5" height="9.1" fill="#231815"/>
<polygon points="8.3,1220.9 373.1,1220.9 378,1229.5 8.3,1229.5" fill="#231815"/>
<polygon points="376.3,1211.7 830.3,1211.7 830.3,1220.3 381.4,1220.3" fill="#231815"/>
<path d="M106.6 1080.3H199.9M112.5 1070.6H191.9M120.8 1056.9H180.7" stroke="#f07878" stroke-width="1.4" fill="none"/>
<path d="M102.2 1107.7H207.9" stroke="#f07878" stroke-width="1.6" stroke-dasharray="6 7" fill="none"/>
<polyline points="93,1092.8 117.5,1052.4 183,1052.4 216.2,1089.2" fill="none" stroke="#1ea8e4" stroke-width="2.8" stroke-dasharray="12.5 12.5"/>
<text x="509.9" y="865.6" font-family="Liberation Serif, 'Times New Roman', serif" font-size="43.5" fill="#e80000">Mining direction</text>
<polygon points="595.3,926.3 695.2,926.3 695.2,939.4 721.4,912.5 695.2,885.6 695.2,898.7 595.3,898.7" fill="#ffff00" stroke="#ff0000" stroke-width="2.8" stroke-linejoin="miter"/>
<text x="14.2" y="942.7" font-family="Liberation Serif, 'Times New Roman', serif" font-size="43.5" fill="#e80000">Protective</text>
<text x="16.8" y="995.7" font-family="Liberation Serif, 'Times New Roman', serif" font-size="43.5" fill="#e80000">coal pillar</text>
<text x="18.1" y="1192.2" font-family="Liberation Serif, 'Times New Roman', serif" font-size="44.5" fill="#e80000">Goaf</text>
<text x="261.2" y="978.9" font-family="Liberation Serif, 'Times New Roman', serif" font-size="43.5" fill="#e80000">Mining</text>
<text x="271.5" y="1031.9" font-family="Liberation Serif, 'Times New Roman', serif" font-size="43.5" fill="#e80000">fissure</text>
<text x="607.7" y="1140.8" font-family="Liberation Serif, 'Times New Roman', serif" font-size="43.5" fill="#e80000">5</text><text x="628.2" y="1128" font-family="Liberation Serif, 'Times New Roman', serif" font-size="31" fill="#e80000">#</text><text x="654.5" y="1140.8" font-family="Liberation Serif, 'Times New Roman', serif" font-size="43.5" fill="#e80000">coal seam</text>
<text x="607.7" y="1275.5" font-family="Liberation Serif, 'Times New Roman', serif" font-size="43.5" fill="#e80000">9</text><text x="628.2" y="1262.7" font-family="Liberation Serif, 'Times New Roman', serif" font-size="31" fill="#e80000">#</text><text x="654.5" y="1275.5" font-family="Liberation Serif, 'Times New Roman', serif" font-size="43.5" fill="#e80000">coal seam</text>
<polygon points="56.1,1012 56.1,1068.8 49.4,1068.8 60.4,1079.3 71.4,1068.8 64.7,1068.8 64.7,1012" fill="#ffff00" stroke="#ff0000" stroke-width="2.8" stroke-linejoin="miter"/>
<polygon points="121.2,1168 167.5,1124.9 171.3,1128.9 177.3,1109 157,1113.6 160.7,1117.6 114.4,1160.6" fill="#ffff00" stroke="#ff0000" stroke-width="2.8" stroke-linejoin="miter"/>
<polygon points="244.2,1011.3 201.7,1035.6 199,1030.8 188.6,1048.9 209.4,1049.1 206.7,1044.3 249.2,1019.9" fill="#ffff00" stroke="#ff0000" stroke-width="2.8" stroke-linejoin="miter"/>
<rect x="844.2" y="825.9" width="823.5" height="686.4" fill="#fff" stroke="#555" stroke-width="1.6"/>
<clipPath id="clipb"><rect x="951" y="972.3" width="574.3" height="464.2"/></clipPath>
<g clip-path="url(#clipb)"><rect x="946.9" y="953" width="582.5" height="502.8" fill="#d8e219"/><rect x="946.9" y="1002.9" width="582.5" height="452.9" fill="#b0dd2f"/><rect x="946.9" y="1036.2" width="582.5" height="419.7" fill="#89d548"/><rect x="946.9" y="1062.9" width="582.5" height="393" fill="#65cb5e"/><rect x="946.9" y="1093.8" width="582.5" height="362" fill="#46c06f"/><rect x="946.9" y="1122" width="582.5" height="333.8" fill="#2eb37c"/><rect x="946.9" y="1153" width="582.5" height="302.9" fill="#21a585"/><rect x="946.9" y="1188.9" width="582.5" height="266.9" fill="#1f978b"/><rect x="946.9" y="1218.7" width="582.5" height="237.1" fill="#23898e"/><rect x="946.9" y="1260.5" width="582.5" height="195.3" fill="#297b8e"/><rect x="946.9" y="1297.3" width="582.5" height="158.6" fill="#2e6d8e"/><rect x="946.9" y="1327" width="582.5" height="128.8" fill="#355e8d"/><rect x="946.9" y="1358.4" width="582.5" height="97.5" fill="#3d4e8a"/><rect x="946.9" y="1394" width="582.5" height="61.9" fill="#433d84"/><rect x="946.9" y="1432.6" width="582.5" height="23.2" fill="#472a7a"/><path fill="#89d548" d="M942.8 1018.8C948.3 1015.9 965.4 1019.6 975.6 1020.7C985.9 1021.8 998.7 1023.4 1004.3 1025.3C1010 1027.3 1010.3 1030.2 1009.7 1032.3C1009 1034.4 1011.4 1037.1 1000.2 1038.1C989.1 1039.1 952.4 1041.3 942.8 1038.1C933.2 1034.9 937.3 1021.7 942.8 1018.8Z"/><path fill="#46c06f" d="M942.8 1061.3C948.3 1056.1 967.4 1062.6 975.6 1065.2C983.8 1067.8 987.9 1071.6 992 1076.8C996.1 1081.9 1008.4 1092.9 1000.2 1096.1C992 1099.3 952.4 1101.9 942.8 1096.1C933.2 1090.3 937.3 1066.5 942.8 1061.3Z"/><path fill="#2eb37c" d="M942.8 1088.4C948.3 1084.2 966.7 1091.6 975.6 1094.2C984.5 1096.8 991.3 1099.7 996.1 1103.9C1000.9 1108 1013.2 1116.7 1004.3 1119.3C995.4 1121.9 953.1 1124.5 942.8 1119.3C932.5 1114.2 937.3 1092.6 942.8 1088.4Z"/><path fill="#21a585" d="M942.8 1115.5C949.6 1107.7 974.2 1116.7 983.8 1119.3C993.4 1121.9 996.1 1126.4 1000.2 1130.9C1004.3 1135.4 1007.1 1140.6 1008.4 1146.4C1009.8 1152.2 1019.4 1162.5 1008.4 1165.7C997.5 1169 953.7 1174.1 942.8 1165.7C931.9 1157.4 936 1123.2 942.8 1115.5Z"/><path fill="#1f978b" d="M942.8 1134.8C949.6 1127.7 973.6 1136.7 983.8 1138.7C994.1 1140.6 999.9 1143.2 1004.3 1146.4C1008.8 1149.6 1011.2 1152.8 1010.5 1158C1009.8 1163.2 1011.5 1173.5 1000.2 1177.3C988.9 1181.2 952.4 1188.3 942.8 1181.2C933.2 1174.1 936 1141.9 942.8 1134.8Z"/><path fill="#23898e" d="M942.8 1146.4C948.3 1140 966 1142.5 975.6 1142.5C985.2 1142.5 994.4 1144.1 1000.2 1146.4C1006 1148.7 1009.8 1151.6 1010.5 1156.1C1011.2 1160.6 1010.1 1169.3 1004.3 1173.5C998.5 1177.7 985.9 1179.9 975.6 1181.2C965.4 1182.5 948.3 1187 942.8 1181.2C937.3 1175.4 937.3 1152.8 942.8 1146.4Z"/><path fill="#23898e" d="M942.8 1185.1C951 1173.8 980.4 1187 992 1190.9C1003.6 1194.8 1005.7 1203.5 1012.5 1208.3C1019.4 1213.1 1015.9 1217.6 1033 1219.9C1050.1 1222.1 1101.4 1215.4 1115.1 1221.8C1128.8 1228.3 1143.8 1252.4 1115.1 1258.6C1086.4 1264.7 971.5 1270.8 942.8 1258.6C914.1 1246.3 934.6 1196.4 942.8 1185.1Z"/><path fill="#1f978b" d="M1094.6 1134.8C1098 1129.6 1108.9 1132.9 1115.1 1134.8C1121.2 1136.7 1128.1 1141.9 1131.5 1146.4C1134.9 1150.9 1137 1156.7 1135.6 1161.9C1134.2 1167 1129.4 1174.1 1123.3 1177.3C1117.1 1180.6 1103.5 1183.1 1098.7 1181.2C1093.9 1179.3 1095.3 1173.5 1094.6 1165.7C1093.9 1158 1091.2 1140 1094.6 1134.8Z"/><path fill="#297b8e" d="M1016.6 1156.5C1016.6 1155.4 1016.2 1154.2 1015.5 1153.2C1014.8 1152.2 1013.7 1151.2 1012.4 1150.4C1011.1 1149.7 1009.5 1149 1007.8 1148.6C1006.1 1148.2 1004.1 1147.9 1002.3 1147.9C1000.4 1147.9 998.5 1148.2 996.8 1148.6C995.1 1149 993.4 1149.7 992.1 1150.4C990.8 1151.2 989.7 1152.2 989 1153.2C988.3 1154.2 987.9 1155.4 987.9 1156.5C987.9 1157.5 988.3 1158.7 989 1159.7C989.7 1160.7 990.8 1161.7 992.1 1162.5C993.4 1163.2 995.1 1163.9 996.8 1164.3C998.5 1164.7 1000.4 1165 1002.3 1165C1004.1 1165 1006.1 1164.7 1007.8 1164.3C1009.5 1163.9 1011.1 1163.2 1012.4 1162.5C1013.7 1161.7 1014.8 1160.7 1015.5 1159.7C1016.2 1158.7 1016.6 1157.5 1016.6 1156.5Z"/><path fill="#3d4e8a" d="M1015 1156.5C1015 1155.9 1014.8 1155.2 1014.4 1154.7C1014.1 1154.1 1013.5 1153.6 1012.8 1153.2C1012.2 1152.8 1011.3 1152.4 1010.4 1152.2C1009.6 1151.9 1008.5 1151.8 1007.6 1151.8C1006.7 1151.8 1005.7 1151.9 1004.8 1152.2C1003.9 1152.4 1003.1 1152.8 1002.4 1153.2C1001.7 1153.6 1001.1 1154.1 1000.8 1154.7C1000.4 1155.2 1000.2 1155.9 1000.2 1156.5C1000.2 1157 1000.4 1157.7 1000.8 1158.2C1001.1 1158.8 1001.7 1159.3 1002.4 1159.7C1003.1 1160.2 1003.9 1160.5 1004.8 1160.7C1005.7 1161 1006.7 1161.1 1007.6 1161.1C1008.5 1161.1 1009.6 1161 1010.4 1160.7C1011.3 1160.5 1012.2 1160.2 1012.8 1159.7C1013.5 1159.3 1014.1 1158.8 1014.4 1158.2C1014.8 1157.7 1015 1157 1015 1156.5Z"/><path fill="#472a7a" d="M1014.2 1156.1C1014.2 1155.7 1014.1 1155.3 1013.9 1154.9C1013.7 1154.5 1013.4 1154.2 1013.1 1153.9C1012.8 1153.6 1012.3 1153.4 1011.9 1153.2C1011.5 1153.1 1010.9 1153 1010.5 1153C1010 1153 1009.5 1153.1 1009.1 1153.2C1008.6 1153.4 1008.2 1153.6 1007.9 1153.9C1007.5 1154.2 1007.2 1154.5 1007.1 1154.9C1006.9 1155.3 1006.8 1155.7 1006.8 1156.1C1006.8 1156.5 1006.9 1156.9 1007.1 1157.3C1007.2 1157.6 1007.5 1158 1007.9 1158.3C1008.2 1158.5 1008.6 1158.8 1009.1 1158.9C1009.5 1159.1 1010 1159.2 1010.5 1159.2C1010.9 1159.2 1011.5 1159.1 1011.9 1158.9C1012.3 1158.8 1012.8 1158.5 1013.1 1158.3C1013.4 1158 1013.7 1157.6 1013.9 1157.3C1014.1 1156.9 1014.2 1156.5 1014.2 1156.1Z"/><path fill="#297b8e" d="M1117.1 1156.8C1117.1 1155.6 1116.7 1154.3 1116 1153.1C1115.3 1152 1114.2 1150.9 1112.9 1150C1111.6 1149.1 1110 1148.4 1108.3 1147.9C1106.6 1147.4 1104.6 1147.2 1102.8 1147.2C1100.9 1147.2 1099 1147.4 1097.3 1147.9C1095.6 1148.4 1093.9 1149.1 1092.6 1150C1091.3 1150.9 1090.2 1152 1089.5 1153.1C1088.8 1154.3 1088.4 1155.6 1088.4 1156.8C1088.4 1158.1 1088.8 1159.4 1089.5 1160.5C1090.2 1161.7 1091.3 1162.8 1092.6 1163.7C1093.9 1164.6 1095.6 1165.3 1097.3 1165.8C1099 1166.2 1100.9 1166.5 1102.8 1166.5C1104.6 1166.5 1106.6 1166.2 1108.3 1165.8C1110 1165.3 1111.6 1164.6 1112.9 1163.7C1114.2 1162.8 1115.3 1161.7 1116 1160.5C1116.7 1159.4 1117.1 1158.1 1117.1 1156.8Z"/><path fill="#3d4e8a" d="M1105.2 1156.5C1105.2 1155.9 1105 1155.2 1104.7 1154.7C1104.3 1154.1 1103.7 1153.6 1103.1 1153.2C1102.4 1152.8 1101.5 1152.4 1100.7 1152.2C1099.8 1151.9 1098.8 1151.8 1097.9 1151.8C1096.9 1151.8 1095.9 1151.9 1095 1152.2C1094.2 1152.4 1093.3 1152.8 1092.6 1153.2C1092 1153.6 1091.4 1154.1 1091 1154.7C1090.7 1155.2 1090.5 1155.9 1090.5 1156.5C1090.5 1157 1090.7 1157.7 1091 1158.2C1091.4 1158.8 1092 1159.3 1092.6 1159.7C1093.3 1160.2 1094.2 1160.5 1095 1160.7C1095.9 1161 1096.9 1161.1 1097.9 1161.1C1098.8 1161.1 1099.8 1161 1100.7 1160.7C1101.5 1160.5 1102.4 1160.2 1103.1 1159.7C1103.7 1159.3 1104.3 1158.8 1104.7 1158.2C1105 1157.7 1105.2 1157 1105.2 1156.5Z"/><path fill="#472a7a" d="M1099.1 1156.1C1099.1 1155.7 1099 1155.3 1098.8 1154.9C1098.6 1154.5 1098.3 1154.2 1098 1153.9C1097.7 1153.6 1097.2 1153.4 1096.8 1153.2C1096.4 1153.1 1095.9 1153 1095.4 1153C1094.9 1153 1094.4 1153.1 1094 1153.2C1093.5 1153.4 1093.1 1153.6 1092.8 1153.9C1092.4 1154.2 1092.2 1154.5 1092 1154.9C1091.8 1155.3 1091.7 1155.7 1091.7 1156.1C1091.7 1156.5 1091.8 1156.9 1092 1157.3C1092.2 1157.6 1092.4 1158 1092.8 1158.3C1093.1 1158.5 1093.5 1158.8 1094 1158.9C1094.4 1159.1 1094.9 1159.2 1095.4 1159.2C1095.9 1159.2 1096.4 1159.1 1096.8 1158.9C1097.2 1158.8 1097.7 1158.5 1098 1158.3C1098.3 1158 1098.6 1157.6 1098.8 1157.3C1099 1156.9 1099.1 1156.5 1099.1 1156.1Z"/><path fill="#d8e219" d="M1012.5 999.4C1024.2 997.9 1090.5 997.9 1102.8 999.4C1115.1 1000.9 1098 1006.8 1086.4 1008.3C1074.7 1009.8 1045.3 1009.8 1033 1008.3C1020.7 1006.8 1000.9 1000.9 1012.5 999.4Z"/><path fill="#65cb5e" d="M983.8 1049.7C1003 1044.9 1095.3 1044.9 1115.1 1049.7C1134.9 1054.5 1105.9 1068.7 1102.8 1078.3C1099.7 1088 1098.7 1099.6 1096.6 1107.7C1094.6 1115.8 1103.8 1123.8 1090.5 1127.1C1077.1 1130.3 1029.6 1130.3 1016.6 1127.1C1003.6 1123.8 1015.3 1115.8 1012.5 1107.7C1009.8 1099.6 1005 1088 1000.2 1078.3C995.4 1068.7 964.7 1054.5 983.8 1049.7Z"/><path fill="#89d548" d="M995.3 1036.5C1013.7 1034 1093 1034 1110.6 1036.5C1128.1 1039.1 1103.7 1044.7 1100.7 1051.6C1097.8 1058.6 1095.4 1068.5 1092.9 1078.3C1090.5 1088.1 1090.5 1102.9 1086 1110.4C1081.4 1117.9 1074 1121.1 1065.9 1123.2C1057.7 1125.3 1044.5 1125.3 1037.1 1123.2C1029.8 1121.1 1026.5 1117.9 1022 1110.4C1017.4 1102.9 1013.3 1088.1 1009.7 1078.3C1006 1068.5 1002.6 1058.6 1000.2 1051.6C997.8 1044.7 976.9 1039.1 995.3 1036.5Z"/><path fill="#b0dd2f" d="M1009.7 1032.3C1023.8 1029.1 1087.7 1029.1 1101.5 1032.3C1115.4 1035.5 1096.8 1044 1092.9 1051.6C1089.1 1059.3 1083.1 1069.9 1078.6 1078.3C1074.1 1086.7 1069 1096.6 1065.9 1101.9C1062.7 1107.3 1061.8 1109 1059.7 1110.4C1057.7 1111.8 1055.6 1111.8 1053.5 1110.4C1051.5 1109 1051.2 1107.3 1047.4 1101.9C1043.6 1096.6 1036.1 1086.7 1031 1078.3C1025.9 1069.9 1020.2 1059.3 1016.6 1051.6C1013.1 1044 995.5 1035.5 1009.7 1032.3Z"/><path fill="#d8e219" d="M1022.8 1153C1032.7 1154.1 1076.1 1154.1 1086.4 1153C1096.6 1151.9 1085.7 1149.1 1084.3 1146.4C1082.9 1143.7 1080.2 1140 1078.2 1136.7C1076.1 1133.5 1074.1 1130.3 1072 1127.1C1070 1123.8 1068.2 1119.6 1065.9 1117.4C1063.5 1115.1 1060.7 1113.5 1057.7 1113.5C1054.6 1113.5 1050.1 1115.1 1047.4 1117.4C1044.7 1119.6 1043.6 1123.8 1041.2 1127.1C1038.9 1130.3 1035.4 1133.5 1033 1136.7C1030.6 1140 1028.6 1143.7 1026.9 1146.4C1025.2 1149.1 1012.9 1151.9 1022.8 1153Z"/><path fill="#fde725" d="M1028.9 1153C1036.8 1154.1 1072 1153.9 1080.2 1153C1088.4 1152 1079.9 1149.2 1078.2 1147.2C1076.5 1145.1 1073.4 1142.3 1070 1140.6C1066.5 1138.9 1062.1 1136.7 1057.7 1136.7C1053.2 1136.7 1047.4 1139 1043.3 1140.6C1039.2 1142.2 1035.4 1144.3 1033 1146.4C1030.6 1148.5 1021.1 1151.9 1028.9 1153Z"/><path fill="#2eb37c" d="M1004.3 1159.2C1019.4 1152.9 1087.7 1152.9 1102.8 1159.2C1117.8 1165.4 1098.7 1186.6 1094.6 1196.7C1090.5 1206.8 1084.3 1215.4 1078.2 1219.9C1072 1224.4 1065.2 1223.8 1057.7 1223.8C1050.1 1223.8 1040.6 1224.4 1033 1219.9C1025.5 1215.4 1017.3 1206.8 1012.5 1196.7C1007.7 1186.6 989.3 1165.4 1004.3 1159.2Z"/><path fill="#65cb5e" d="M1016.6 1159.2C1027.9 1154.2 1080.9 1154.2 1092.5 1159.2C1104.1 1164.1 1089.4 1181.1 1086.4 1188.9C1083.3 1196.8 1079.2 1202.8 1074.1 1206.4C1068.9 1209.9 1061.8 1210.2 1055.6 1210.2C1049.4 1210.2 1042.3 1209.9 1037.1 1206.4C1032 1202.8 1028.3 1196.8 1024.8 1188.9C1021.4 1181.1 1005.4 1164.1 1016.6 1159.2Z"/><path fill="#b0dd2f" d="M1018.7 1159.2C1029.5 1155.5 1078.7 1155.5 1089.6 1159.2C1100.6 1162.8 1087.3 1175.3 1084.3 1181.2C1081.4 1187.1 1077.1 1192.2 1072 1194.8C1066.9 1197.3 1059.4 1196.7 1053.5 1196.7C1047.7 1196.7 1041.9 1197.3 1037.1 1194.8C1032.4 1192.2 1027.9 1187.1 1024.8 1181.2C1021.8 1175.3 1007.9 1162.8 1018.7 1159.2Z"/><path fill="#d8e219" d="M1017.9 1159.2C1028.6 1156.1 1078.2 1156.1 1089.2 1159.2C1100.3 1162.2 1086.2 1173.1 1084.3 1177.3C1082.5 1181.6 1086.7 1183.5 1078.2 1184.7C1069.6 1185.9 1041.9 1185.9 1033 1184.7C1024.2 1183.5 1027.4 1181.6 1024.8 1177.3C1022.3 1173.1 1007.1 1162.2 1017.9 1159.2Z"/><path fill="#fde725" d="M1018.3 1159.2C1029.3 1157.4 1077.9 1157.7 1089.2 1159.2C1100.6 1160.6 1088.9 1164.8 1086.4 1167.7C1083.8 1170.6 1082.9 1175.1 1074.1 1176.6C1065.2 1178.1 1041.6 1177.7 1033 1176.6C1024.5 1175.4 1025.2 1172.5 1022.8 1169.6C1020.3 1166.7 1007.2 1160.9 1018.3 1159.2Z"/></g>
<g fill="none" stroke="#151515" stroke-width="1.6" transform="matrix(4.102 0 0 -3.868 951.0 1436.5)"><use href="#mw"/><use href="#ms"/><use href="#mh"/></g>
<rect x="951" y="972.3" width="574.3" height="464.2" fill="none" stroke="#111" stroke-width="1"/>
<polygon points="1166.4,1178.5 1176.6,1178.5 1228.3,1262.4 1216,1262.4" fill="none" stroke="#111" stroke-width="1.3"/>
<path d="M1171.5 1178.5L1173.8 1182.3L1176.1 1186.1L1178.4 1190L1180.7 1193.8L1183 1197.6L1185.3 1201.4L1187.6 1205.2L1189.9 1209L1192.2 1212.8L1194.5 1216.7L1196.8 1220.5L1199.1 1224.3L1201.4 1228.1L1203.7 1231.9L1206 1235.7L1208.3 1239.5L1210.6 1243.4L1212.9 1247.2L1215.2 1251L1217.5 1254.8L1219.8 1258.6L1222.1 1262.4M1166.4 1178.5L1173.8 1182.3L1170.9 1186.1L1178.4 1190L1175.4 1193.8L1183 1197.6L1179.9 1201.4L1187.6 1205.2L1184.4 1209L1192.2 1212.8L1188.9 1216.7L1196.8 1220.5L1193.4 1224.3L1201.4 1228.1L1197.9 1231.9L1206 1235.7L1202.5 1239.5L1210.6 1243.4L1207 1247.2L1215.2 1251L1211.5 1254.8L1219.8 1258.6L1216 1262.4M1171.5 1178.5L1179 1182.3L1176.1 1186.1L1183.7 1190L1180.7 1193.8L1188.4 1197.6L1185.3 1201.4L1193.1 1205.2L1189.9 1209L1197.8 1212.8L1194.5 1216.7L1202.5 1220.5L1199.1 1224.3L1207.2 1228.1L1203.7 1231.9L1211.8 1235.7L1208.3 1239.5L1216.5 1243.4L1212.9 1247.2L1221.2 1251L1217.5 1254.8L1225.9 1258.6L1222.1 1262.4" stroke="#222" stroke-width="0.9" fill="none"/>
<rect x="1012.5" y="1153.4" width="82" height="5.8" fill="#fff"/>
<g stroke="#000" fill="none">
<path stroke-width="2.6" d="M951 895V1436.5H1566.3"/>
<path stroke-width="2.4" d="M951 1436.5h14M951 1359.1h14M951 1281.8h14M951 1204.4h14M951 1127.1h14M951 1049.7h14M951 972.3h14M951 895h14M951 1436.5v-14M1156.1 1436.5v-14M1361.2 1436.5v-14M1566.3 1436.5v-14"/>
<path stroke-width="1.3" d="M951 1417.2h8M951 1397.8h8M951 1378.5h8M951 1339.8h8M951 1320.5h8M951 1301.1h8M951 1262.4h8M951 1243.1h8M951 1223.8h8M951 1185.1h8M951 1165.7h8M951 1146.4h8M951 1107.7h8M951 1088.4h8M951 1069h8M951 1030.4h8M951 1011h8M951 991.7h8M951 953h8M951 933.7h8M951 914.3h8M992 1436.5v-7M1033 1436.5v-7M1074.1 1436.5v-7M1115.1 1436.5v-7M1197.1 1436.5v-7M1238.1 1436.5v-7M1279.2 1436.5v-7M1320.2 1436.5v-7M1402.2 1436.5v-7M1443.2 1436.5v-7M1484.3 1436.5v-7M1525.3 1436.5v-7"/>
</g>
<g font-family="Liberation Sans, Arial, sans-serif" font-size="22" fill="#000">
<text x="941" y="1444.1" text-anchor="end">0</text>
<text x="941" y="1366.7" text-anchor="end">20</text>
<text x="941" y="1289.4" text-anchor="end">40</text>
<text x="941" y="1212" text-anchor="end">60</text>
<text x="941" y="1134.7" text-anchor="end">80</text>
<text x="941" y="1057.3" text-anchor="end">100</text>
<text x="941" y="979.9" text-anchor="end">120</text>
<text x="941" y="902.6" text-anchor="end">140</text>
<text x="951" y="1458" text-anchor="middle">0</text>
<text x="1156.1" y="1458" text-anchor="middle">50</text>
<text x="1361.2" y="1458" text-anchor="middle">100</text>
<text x="1566.3" y="1458" text-anchor="middle">150</text>
</g>
<text x="1258.7" y="1481.2" text-anchor="middle" font-family="Liberation Sans, Arial, sans-serif" font-weight="bold" font-size="26">X(m)</text>
<text transform="translate(897 1165.7) rotate(-90)" text-anchor="middle" font-family="Liberation Sans, Arial, sans-serif" font-weight="bold" font-size="26">Y(m)</text>
<rect x="1527.6" y="825.9" width="140.1" height="405.8" fill="#fff" stroke="#777" stroke-width="1.4"/>
<text x="1582.6" y="850.5" font-family="Liberation Sans, Arial, sans-serif" font-size="18.3">SYY(Pa)</text>
<rect x="1539.9" y="861.5" width="26.6" height="10.4" fill="#fde725" stroke="#222" stroke-width="1"/>
<rect x="1539.9" y="871.9" width="26.6" height="20.6" fill="#d8e219" stroke="#222" stroke-width="1"/>
<rect x="1539.9" y="892.5" width="26.6" height="20.6" fill="#b0dd2f" stroke="#222" stroke-width="1"/>
<rect x="1539.9" y="913.1" width="26.6" height="20.6" fill="#89d548" stroke="#222" stroke-width="1"/>
<rect x="1539.9" y="933.7" width="26.6" height="20.6" fill="#65cb5e" stroke="#222" stroke-width="1"/>
<rect x="1539.9" y="954.3" width="26.6" height="20.6" fill="#46c06f" stroke="#222" stroke-width="1"/>
<rect x="1539.9" y="974.9" width="26.6" height="20.6" fill="#2eb37c" stroke="#222" stroke-width="1"/>
<rect x="1539.9" y="995.5" width="26.6" height="20.6" fill="#21a585" stroke="#222" stroke-width="1"/>
<rect x="1539.9" y="1016.1" width="26.6" height="20.6" fill="#1f978b" stroke="#222" stroke-width="1"/>
<rect x="1539.9" y="1036.7" width="26.6" height="20.6" fill="#23898e" stroke="#222" stroke-width="1"/>
<rect x="1539.9" y="1057.3" width="26.6" height="20.6" fill="#297b8e" stroke="#222" stroke-width="1"/>
<rect x="1539.9" y="1077.9" width="26.6" height="20.6" fill="#2e6d8e" stroke="#222" stroke-width="1"/>
<rect x="1539.9" y="1098.5" width="26.6" height="20.6" fill="#355e8d" stroke="#222" stroke-width="1"/>
<rect x="1539.9" y="1119.1" width="26.6" height="20.6" fill="#3d4e8a" stroke="#222" stroke-width="1"/>
<rect x="1539.9" y="1139.7" width="26.6" height="20.6" fill="#433d84" stroke="#222" stroke-width="1"/>
<rect x="1539.9" y="1160.3" width="26.6" height="20.6" fill="#472a7a" stroke="#222" stroke-width="1"/>
<rect x="1539.9" y="1180.9" width="26.6" height="20.6" fill="#481769" stroke="#222" stroke-width="1"/>
<rect x="1539.9" y="1201.5" width="26.6" height="10.3" fill="#440154" stroke="#222" stroke-width="1"/>
<g font-family="Liberation Sans, Arial, sans-serif" font-size="18">
<text x="1581.4" y="880.5">0</text>
<text x="1574.4" y="901.1">-200000</text>
<text x="1574.4" y="921.7">-400000</text>
<text x="1574.4" y="942.3">-600000</text>
<text x="1574.4" y="962.9">-800000</text>
<text x="1574.4" y="983.5">-1E+06</text>
<text x="1574.4" y="1004.1">-1.2E+06</text>
<text x="1574.4" y="1024.7">-1.4E+06</text>
<text x="1574.4" y="1045.3">-1.6E+06</text>
<text x="1574.4" y="1065.9">-1.8E+06</text>
<text x="1574.4" y="1086.5">-2E+06</text>
<text x="1574.4" y="1107.1">-2.2E+06</text>
<text x="1574.4" y="1127.7">-2.4E+06</text>
<text x="1574.4" y="1148.3">-2.6E+06</text>
<text x="1574.4" y="1168.9">-2.8E+06</text>
<text x="1574.4" y="1189.5">-3E+06</text>
<text x="1574.4" y="1210.1">-3.2E+06</text>
</g>
<rect x="6.7" y="822.7" width="1663.3" height="688.6" fill="none" stroke="#2a5298" stroke-width="5.2" stroke-dasharray="22.2 18.5" stroke-dashoffset="35.7"/>
<text y="1565.6" font-family="Liberation Serif, 'Times New Roman', serif" font-size="43"><tspan x="665.9">(</tspan><tspan x="682.4">b</tspan><tspan x="704.4">)</tspan></text>
<text x="747.1" y="1565.6" font-family="Liberation Serif, 'Times New Roman', serif" font-size="43">Advancing 20 m</text>
<g fill="none" stroke-width="1.8" transform="matrix(5.87357 0 0 -5.68083 8 2297.5)">
<use href="#mw" stroke="#b9e0a6"/><use href="#ms" stroke="#74c24f"/><use href="#mh" stroke="#74c24f"/>
</g>
<rect x="8" y="1615.8" width="822.3" height="681.7" fill="none" stroke="#74c24f" stroke-width="1.8"/>
<polygon points="316.4,1918.6 331,1918.6 405.1,2041.9 387.4,2041.9" fill="#fff" stroke="#74c24f" stroke-width="1.6"/>
<path d="M323.7 1918.6L327 1924.2L330.3 1929.8L333.6 1935.4L336.9 1941L340.2 1946.6L343.5 1952.2L346.8 1957.8L350.1 1963.4L353.4 1969L356.7 1974.6L360 1980.2L363.3 1985.8L366.6 1991.4L369.9 1997L373.2 2002.6L376.5 2008.2L379.8 2013.8L383.1 2019.4L386.4 2025.1L389.6 2030.7L392.9 2036.3L396.2 2041.9M316.4 1918.6L327 1924.2L322.8 1929.8L333.6 1935.4L329.3 1941L340.2 1946.6L335.7 1952.2L346.8 1957.8L342.2 1963.4L353.4 1969L348.7 1974.6L360 1980.2L355.1 1985.8L366.6 1991.4L361.6 1997L373.2 2002.6L368 2008.2L379.8 2013.8L374.5 2019.4L386.4 2025.1L381 2030.7L392.9 2036.3L387.4 2041.9M323.7 1918.6L334.4 1924.2L330.3 1929.8L341.1 1935.4L336.9 1941L347.9 1946.6L343.5 1952.2L354.6 1957.8L350.1 1963.4L361.3 1969L356.7 1974.6L368 1980.2L363.3 1985.8L374.8 1991.4L369.9 1997L381.5 2002.6L376.5 2008.2L388.2 2013.8L383.1 2019.4L395 2025.1L389.6 2030.7L401.7 2036.3L396.2 2041.9" stroke="#74c24f" stroke-width="1.3" fill="none"/>
<rect x="96.1" y="1881.1" width="176.2" height="9.1" fill="#fff" stroke="#b9e0a6" stroke-width="1.8"/>
<rect x="8" y="1881.1" width="88.1" height="9.1" fill="#231815"/>
<rect x="272.3" y="1881.1" width="558" height="9.1" fill="#231815"/>
<polygon points="8,2010.6 372.9,2010.6 377.9,2019.1 8,2019.1" fill="#231815"/>
<polygon points="376.1,2001.5 830.3,2001.5 830.3,2010 381.3,2010" fill="#231815"/>
<path d="M104.1 1870.9H268.1M111.5 1861.2H260.3M121.9 1847.6H249.4M131.1 1835.6H239.8M147.6 1814.1H222.4M162.9 1794.2H206.4" stroke="#f07878" stroke-width="1.4" fill="none"/>
<path d="M102 1898.1H266.4" stroke="#f07878" stroke-width="1.6" stroke-dasharray="6 7" fill="none"/>
<polyline points="89.3,1882.3 163,1786.2 206,1786.2 283.3,1880.1" fill="none" stroke="#1ea8e4" stroke-width="2.8" stroke-dasharray="12.5 12.5"/>
<text x="520.9" y="1664.2" font-family="Liberation Serif, 'Times New Roman', serif" font-size="43.5" fill="#e80000">Mining direction</text>
<polygon points="605.3,1724.9 705.2,1724.9 705.2,1738.5 732,1711.3 705.2,1684.1 705.2,1697.7 605.3,1697.7" fill="#ffff00" stroke="#ff0000" stroke-width="2.8" stroke-linejoin="miter"/>
<text x="21.6" y="1698.5" font-family="Liberation Serif, 'Times New Roman', serif" font-size="43.5" fill="#e80000">Protective</text>
<text x="26.2" y="1749.3" font-family="Liberation Serif, 'Times New Roman', serif" font-size="43.5" fill="#e80000">coal pillar</text>
<text x="23.1" y="1967.9" font-family="Liberation Serif, 'Times New Roman', serif" font-size="44.5" fill="#e80000">Goaf</text>
<text x="235.5" y="1783.2" font-family="Liberation Serif, 'Times New Roman', serif" font-size="43.5" fill="#e80000">Mining fissure</text>
<text x="605.4" y="1933.9" font-family="Liberation Serif, 'Times New Roman', serif" font-size="43.5" fill="#e80000">5</text><text x="625.9" y="1921.1" font-family="Liberation Serif, 'Times New Roman', serif" font-size="31" fill="#e80000">#</text><text x="652.2" y="1933.9" font-family="Liberation Serif, 'Times New Roman', serif" font-size="43.5" fill="#e80000">coal seam</text>
<text x="608.5" y="2067.8" font-family="Liberation Serif, 'Times New Roman', serif" font-size="43.5" fill="#e80000">9</text><text x="629" y="2055" font-family="Liberation Serif, 'Times New Roman', serif" font-size="31" fill="#e80000">#</text><text x="655.3" y="2067.8" font-family="Liberation Serif, 'Times New Roman', serif" font-size="43.5" fill="#e80000">coal seam</text>
<polygon points="56.4,1772.4 56.4,1858.6 47.5,1858.6 61.5,1872.4 75.5,1858.6 66.7,1858.6 66.7,1772.4" fill="#ffff00" stroke="#ff0000" stroke-width="2.8" stroke-linejoin="miter"/>
<polygon points="127.9,1935.7 188.4,1913.4 190.3,1918.6 201.7,1903.2 183.1,1898.9 185,1904 124.5,1926.3" fill="#ffff00" stroke="#ff0000" stroke-width="2.8" stroke-linejoin="miter"/>
<polygon points="339.5,1803.3 297,1824 294.6,1819.1 284.8,1835.5 303.8,1837.9 301.4,1833 343.9,1812.3" fill="#ffff00" stroke="#ff0000" stroke-width="2.8" stroke-linejoin="miter"/>
<rect x="847.3" y="1612.2" width="821.1" height="685.8" fill="#fff" stroke="#555" stroke-width="1.6"/>
<clipPath id="clipc"><rect x="953.8" y="1758.1" width="574.3" height="464.2"/></clipPath>
<g clip-path="url(#clipc)"><rect x="949.7" y="1738.8" width="582.5" height="502.8" fill="#b5de2b"/><rect x="949.7" y="1833.2" width="582.5" height="408.5" fill="#6ece58"/><rect x="949.7" y="1907.8" width="582.5" height="333.8" fill="#35b779"/><rect x="949.7" y="1986.4" width="582.5" height="255.3" fill="#1f9e89"/><rect x="949.7" y="2067.6" width="582.5" height="174.1" fill="#26828e"/><rect x="949.7" y="2166.2" width="582.5" height="75.4" fill="#31688e"/><path fill="#6ece58" d="M945.6 1806.5C951.1 1799.7 970.2 1808.6 978.4 1810.4C986.6 1812.1 989.4 1814 994.8 1816.9C1000.3 1819.8 1008.5 1822.1 1011.2 1827.8C1014 1833.4 1022.2 1847.1 1011.2 1851C1000.3 1854.8 956.5 1858.4 945.6 1851C934.7 1843.6 940.1 1813.3 945.6 1806.5Z"/><path fill="#6ece58" d="M1134.3 1819.3C1141.8 1815.1 1167.1 1818.4 1179.4 1818.5C1191.7 1818.6 1197.9 1818.9 1208.1 1820C1218.4 1821.1 1228.6 1823.4 1240.9 1825.1C1253.2 1826.7 1266.9 1828.5 1282 1829.7C1297 1830.9 1317.5 1831.4 1331.2 1832C1344.9 1832.6 1358.5 1831.3 1364 1833.2C1369.5 1835 1402.3 1841.6 1364 1843.2C1325.7 1844.9 1172.6 1847.2 1134.3 1843.2C1096 1839.2 1126.8 1823.4 1134.3 1819.3Z"/><path fill="#35b779" d="M945.6 1849C950.4 1841.6 966.1 1850.6 974.3 1852.9C982.5 1855.2 988.7 1858.4 994.8 1862.6C1001 1866.8 1007.1 1872.2 1011.2 1878C1015.3 1883.9 1030.4 1894.2 1019.4 1897.4C1008.5 1900.6 957.9 1905.4 945.6 1897.4C933.3 1889.3 940.8 1856.5 945.6 1849Z"/><path fill="#1f9e89" d="M945.6 1887.7C952.4 1867.7 976.4 1893.8 986.6 1897.4C996.9 1900.9 1001.7 1904.5 1007.1 1909C1012.6 1913.5 1017.4 1910.9 1019.4 1924.5C1021.5 1938 1023.5 1976 1019.4 1990.2C1015.3 2004.4 1007.1 2005 994.8 2009.6C982.5 2014.1 953.8 2037.6 945.6 2017.3C937.4 1997 938.8 1907.7 945.6 1887.7Z"/><path fill="#26828e" d="M945.6 1912.9C951.1 1898.4 969.5 1913.5 978.4 1914.8C987.3 1916.1 992.8 1917.7 998.9 1920.6C1005.1 1923.5 1012.3 1925.8 1015.3 1932.2C1018.4 1938.6 1019.4 1950.9 1017.4 1959.3C1015.3 1967.7 1009.5 1976 1003 1982.5C996.5 1988.9 988 1994.7 978.4 1998C968.8 2001.2 951.1 2016 945.6 2001.8C940.1 1987.6 940.1 1927.4 945.6 1912.9Z"/><path fill="#35b779" d="M1126.1 1878C1132.9 1871 1157.9 1876.2 1167.1 1874.2C1176.3 1872.2 1174.6 1867.1 1181.5 1866.1C1188.3 1865 1200.9 1865.6 1208.1 1868C1215.3 1870.4 1216.3 1876.2 1224.5 1880.4C1232.7 1884.5 1245.7 1888.9 1257.3 1892.7C1269 1896.5 1282 1900.8 1294.3 1903.2C1306.6 1905.6 1312.7 1905.8 1331.2 1907.1C1349.6 1908.3 1370.8 1909.9 1405 1910.5C1439.2 1911.2 1514.4 1909.9 1536.3 1910.9C1558.2 1912 1604.7 1915.8 1536.3 1916.7C1467.9 1917.7 1194.5 1923.2 1126.1 1916.7C1057.7 1910.3 1119.2 1885.1 1126.1 1878Z"/><path fill="#1f9e89" d="M1134.3 1907.1C1138.4 1891.9 1150.7 1907.7 1158.9 1907.1C1167.1 1906.4 1177.2 1902.6 1183.5 1903.2C1189.9 1903.8 1193.4 1906.3 1197 1910.5C1200.7 1914.7 1202.4 1921.8 1205.7 1928.3C1208.9 1934.8 1210.4 1943.2 1216.3 1949.6C1222.2 1956.1 1230.7 1962.6 1240.9 1967C1251.2 1971.4 1266.2 1973.2 1277.9 1975.9C1289.5 1978.6 1289.5 1981.8 1310.7 1983.3C1331.9 1984.7 1367.4 1984.4 1405 1984.8C1442.6 1985.2 1514.4 1983.4 1536.3 1985.6C1558.2 1987.8 1603.3 1995.9 1536.3 1998C1469.3 2000 1201.3 2013.1 1134.3 1998C1067.3 1982.8 1130.2 1922.2 1134.3 1907.1Z"/><path fill="#26828e" d="M1135.5 1920.6C1139.4 1910 1152.6 1916.7 1158.9 1918.7C1165.2 1920.6 1169.8 1925.4 1173.3 1932.2C1176.7 1939 1179.1 1948.3 1179.4 1959.3C1179.8 1970.2 1178.7 1988.3 1175.3 1998C1171.9 2007.6 1164.4 2015.4 1158.9 2017.3C1153.4 2019.2 1146.4 2015.4 1142.5 2009.6C1138.6 2003.8 1136.7 1997.3 1135.5 1982.5C1134.4 1967.7 1131.6 1931.2 1135.5 1920.6Z"/><path fill="#31688e" d="M1020.7 1941.9C1020.7 1941 1020.3 1940 1019.8 1939.2C1019.2 1938.4 1018.3 1937.6 1017.3 1936.9C1016.3 1936.3 1014.9 1935.8 1013.6 1935.4C1012.2 1935.1 1010.6 1934.9 1009.2 1934.9C1007.7 1934.9 1006.1 1935.1 1004.8 1935.4C1003.4 1935.8 1002.1 1936.3 1001.1 1936.9C1000 1937.6 999.1 1938.4 998.6 1939.2C998 1940 997.7 1941 997.7 1941.9C997.7 1942.8 998 1943.7 998.6 1944.5C999.1 1945.4 1000 1946.2 1001.1 1946.8C1002.1 1947.4 1003.4 1948 1004.8 1948.3C1006.1 1948.6 1007.7 1948.8 1009.2 1948.8C1010.6 1948.8 1012.2 1948.6 1013.6 1948.3C1014.9 1948 1016.3 1947.4 1017.3 1946.8C1018.3 1946.2 1019.2 1945.4 1019.8 1944.5C1020.3 1943.7 1020.7 1942.8 1020.7 1941.9Z"/><path fill="#3e4989" d="M1018.6 1941.9C1018.6 1941.4 1018.5 1940.9 1018.2 1940.5C1018 1940.1 1017.6 1939.7 1017.2 1939.4C1016.7 1939.1 1016.2 1938.8 1015.6 1938.7C1015 1938.5 1014.3 1938.4 1013.7 1938.4C1013.1 1938.4 1012.4 1938.5 1011.8 1938.7C1011.2 1938.8 1010.7 1939.1 1010.2 1939.4C1009.8 1939.7 1009.4 1940.1 1009.1 1940.5C1008.9 1940.9 1008.8 1941.4 1008.8 1941.9C1008.8 1942.3 1008.9 1942.8 1009.1 1943.2C1009.4 1943.6 1009.8 1944 1010.2 1944.3C1010.7 1944.6 1011.2 1944.9 1011.8 1945.1C1012.4 1945.3 1013.1 1945.4 1013.7 1945.4C1014.3 1945.4 1015 1945.3 1015.6 1945.1C1016.2 1944.9 1016.7 1944.6 1017.2 1944.3C1017.6 1944 1018 1943.6 1018.2 1943.2C1018.5 1942.8 1018.6 1942.3 1018.6 1941.9Z"/><path fill="#31688e" d="M1153.2 1942.3C1153.2 1941.3 1152.9 1940.3 1152.3 1939.4C1151.8 1938.6 1151 1937.7 1150 1937.1C1149.1 1936.4 1147.8 1935.8 1146.6 1935.5C1145.3 1935.1 1143.9 1934.9 1142.5 1934.9C1141.1 1934.9 1139.7 1935.1 1138.4 1935.5C1137.2 1935.8 1135.9 1936.4 1135 1937.1C1134 1937.7 1133.2 1938.6 1132.6 1939.4C1132.1 1940.3 1131.8 1941.3 1131.8 1942.3C1131.8 1943.2 1132.1 1944.2 1132.6 1945.1C1133.2 1945.9 1134 1946.8 1135 1947.5C1135.9 1948.1 1137.2 1948.7 1138.4 1949C1139.7 1949.4 1141.1 1949.6 1142.5 1949.6C1143.9 1949.6 1145.3 1949.4 1146.6 1949C1147.8 1948.7 1149.1 1948.1 1150 1947.5C1151 1946.8 1151.8 1945.9 1152.3 1945.1C1152.9 1944.2 1153.2 1943.2 1153.2 1942.3Z"/><path fill="#3e4989" d="M1144.1 1941.9C1144.1 1941.4 1144 1940.9 1143.8 1940.5C1143.6 1940.1 1143.2 1939.7 1142.8 1939.4C1142.4 1939.1 1141.9 1938.8 1141.3 1938.7C1140.8 1938.5 1140.2 1938.4 1139.6 1938.4C1139 1938.4 1138.4 1938.5 1137.9 1938.7C1137.4 1938.8 1136.8 1939.1 1136.4 1939.4C1136 1939.7 1135.7 1940.1 1135.5 1940.5C1135.2 1940.9 1135.1 1941.4 1135.1 1941.9C1135.1 1942.3 1135.2 1942.8 1135.5 1943.2C1135.7 1943.6 1136 1944 1136.4 1944.3C1136.8 1944.6 1137.4 1944.9 1137.9 1945.1C1138.4 1945.3 1139 1945.4 1139.6 1945.4C1140.2 1945.4 1140.8 1945.3 1141.3 1945.1C1141.9 1944.9 1142.4 1944.6 1142.8 1944.3C1143.2 1944 1143.6 1943.6 1143.8 1943.2C1144 1942.8 1144.1 1942.3 1144.1 1941.9Z"/><path fill="#1f9e89" d="M986.6 1982.5C1016 1970.9 1138.4 1969.6 1167.1 1982.5C1195.8 1995.4 1165.7 2041.8 1158.9 2059.8C1152.1 2077.9 1137.7 2084.7 1126.1 2090.8C1114.5 2096.8 1101.5 2095.6 1089.2 2096.2C1076.9 2096.8 1064.6 2096.8 1052.2 2094.7C1039.9 2092.5 1025.6 2090.1 1015.3 2083.1C1005.1 2076 995.5 2068.9 990.7 2052.1C985.9 2035.3 957.2 1994.1 986.6 1982.5Z"/><path fill="#35b779" d="M1017.4 1943.8C1037 1935.6 1116 1935.4 1136.3 1943.8C1156.6 1952.2 1139.9 1981.5 1139.2 1994.1C1138.5 2006.7 1136.7 2012.4 1132.2 2019.6C1127.8 2026.8 1120.4 2033.3 1112.5 2037.4C1104.7 2041.5 1094.4 2043.5 1085.1 2044.4C1075.7 2045.2 1063.3 2043.6 1056.3 2042.4C1049.4 2041.3 1047.7 2041.2 1043.2 2037.4C1038.7 2033.6 1033.4 2027 1029.3 2019.6C1025.2 2012.3 1020.6 2005.9 1018.6 1993.3C1016.6 1980.7 997.8 1952.1 1017.4 1943.8Z"/><path fill="#6ece58" d="M1018.6 1943.8C1036.6 1938.6 1117.6 1938.6 1135.5 1943.8C1153.4 1949 1129.3 1966.5 1126.1 1974.7C1122.9 1983 1121.7 1988.2 1116.2 1993.3C1110.8 1998.5 1101.2 2003.6 1093.3 2005.7C1085.3 2007.8 1077.3 2007.8 1068.7 2005.7C1060 2003.6 1048.4 1998.5 1041.6 1993.3C1034.7 1988.2 1031.5 1983 1027.6 1974.7C1023.8 1966.5 1000.6 1949 1018.6 1943.8Z"/><path fill="#b5de2b" d="M1017.8 1945C1035.9 1943.2 1114.9 1942.6 1132.2 1945C1149.6 1947.3 1124.6 1955.7 1122 1959.3C1119.3 1962.9 1119.9 1963.1 1116.2 1966.6C1112.6 1970.2 1106.8 1977.9 1100.2 1980.6C1093.7 1983.2 1083.7 1982.5 1076.9 1982.5C1070 1982.5 1066.3 1983.2 1059.2 1980.6C1052.2 1977.9 1040.6 1970.8 1034.6 1966.6C1028.7 1962.4 1026.3 1959 1023.5 1955.4C1020.7 1951.8 999.7 1946.7 1017.8 1945Z"/><path fill="#b5de2b" d="M1003 1812.3C975 1815.1 1007.7 1823.2 1011.2 1828.9C1014.7 1834.7 1020.3 1840.2 1023.9 1846.7C1027.6 1853.2 1031.5 1861.2 1033 1868C1034.5 1874.8 1034.5 1880.2 1033 1887.7C1031.4 1895.2 1026.1 1904.4 1023.5 1912.9C1020.9 1921.4 998.6 1934.5 1017.4 1938.8C1036.2 1943.1 1116.9 1945.2 1136.3 1938.8C1155.8 1932.3 1134.9 1907.4 1133.9 1900.1C1132.9 1892.7 1132 1897.6 1130.2 1894.7C1128.4 1891.7 1124.1 1887.3 1123.2 1882.3C1122.3 1877.3 1123.7 1869.9 1124.9 1864.5C1126 1859.2 1126.9 1854.6 1130.2 1850.2C1133.5 1845.8 1139.2 1842.2 1144.5 1837.8C1149.9 1833.4 1156.4 1828.2 1162.2 1823.9C1168 1819.6 1205.9 1814.2 1179.4 1812.3C1152.9 1810.4 1031.1 1809.5 1003 1812.3Z"/><path fill="#fde725" d="M1020.7 1939.2C1039.1 1940 1116 1940 1134.3 1939.2C1152.5 1938.3 1132.6 1937.7 1130.2 1934.1C1127.7 1930.6 1123.3 1922.1 1119.5 1917.9C1115.7 1913.7 1110.4 1912.5 1107.2 1909C1104 1905.4 1105.3 1899.2 1100.2 1896.6C1095.2 1894 1084.6 1893.5 1076.9 1893.5C1069.1 1893.5 1059.8 1894 1053.9 1896.6C1048 1899.2 1044.5 1905.4 1041.6 1909C1038.6 1912.5 1039.2 1913.7 1036.3 1917.9C1033.3 1922.1 1026.5 1930.6 1023.9 1934.1C1021.3 1937.7 1002.3 1938.3 1020.7 1939.2Z"/></g>
<g fill="none" stroke="#151515" stroke-width="1.6" transform="matrix(4.102 0 0 -3.868 953.8 2222.3)"><use href="#mw"/><use href="#ms"/><use href="#mh"/></g>
<rect x="953.8" y="1758.1" width="574.3" height="464.2" fill="none" stroke="#111" stroke-width="1"/>
<polygon points="1169.2,1964.3 1179.4,1964.3 1231.1,2048.2 1218.8,2048.2" fill="none" stroke="#111" stroke-width="1.3"/>
<path d="M1174.3 1964.3L1176.6 1968.1L1178.9 1971.9L1181.2 1975.8L1183.5 1979.6L1185.8 1983.4L1188.1 1987.2L1190.4 1991L1192.7 1994.8L1195 1998.6L1197.3 2002.5L1199.6 2006.3L1201.9 2010.1L1204.2 2013.9L1206.5 2017.7L1208.8 2021.5L1211.1 2025.3L1213.4 2029.2L1215.7 2033L1218 2036.8L1220.3 2040.6L1222.6 2044.4L1224.9 2048.2M1169.2 1964.3L1176.6 1968.1L1173.7 1971.9L1181.2 1975.8L1178.2 1979.6L1185.8 1983.4L1182.7 1987.2L1190.4 1991L1187.2 1994.8L1195 1998.6L1191.7 2002.5L1199.6 2006.3L1196.2 2010.1L1204.2 2013.9L1200.7 2017.7L1208.8 2021.5L1205.3 2025.3L1213.4 2029.2L1209.8 2033L1218 2036.8L1214.3 2040.6L1222.6 2044.4L1218.8 2048.2M1174.3 1964.3L1181.8 1968.1L1178.9 1971.9L1186.5 1975.8L1183.5 1979.6L1191.2 1983.4L1188.1 1987.2L1195.9 1991L1192.7 1994.8L1200.6 1998.6L1197.3 2002.5L1205.3 2006.3L1201.9 2010.1L1210 2013.9L1206.5 2017.7L1214.6 2021.5L1211.1 2025.3L1219.3 2029.2L1215.7 2033L1224 2036.8L1220.3 2040.6L1228.7 2044.4L1224.9 2048.2" stroke="#222" stroke-width="0.9" fill="none"/>
<rect x="1015.3" y="1939.2" width="123.1" height="5.8" fill="#fff"/>
<g stroke="#000" fill="none">
<path stroke-width="2.6" d="M953.8 1680.8V2222.3H1569.1"/>
<path stroke-width="2.4" d="M953.8 2222.3h14M953.8 2144.9h14M953.8 2067.6h14M953.8 1990.2h14M953.8 1912.9h14M953.8 1835.5h14M953.8 1758.1h14M953.8 1680.8h14M953.8 2222.3v-14M1158.9 2222.3v-14M1364 2222.3v-14M1569.1 2222.3v-14"/>
<path stroke-width="1.3" d="M953.8 2203h8M953.8 2183.6h8M953.8 2164.3h8M953.8 2125.6h8M953.8 2106.3h8M953.8 2086.9h8M953.8 2048.2h8M953.8 2028.9h8M953.8 2009.6h8M953.8 1970.9h8M953.8 1951.5h8M953.8 1932.2h8M953.8 1893.5h8M953.8 1874.2h8M953.8 1854.8h8M953.8 1816.2h8M953.8 1796.8h8M953.8 1777.5h8M953.8 1738.8h8M953.8 1719.5h8M953.8 1700.1h8M994.8 2222.3v-7M1035.8 2222.3v-7M1076.9 2222.3v-7M1117.9 2222.3v-7M1199.9 2222.3v-7M1240.9 2222.3v-7M1282 2222.3v-7M1323 2222.3v-7M1405 2222.3v-7M1446 2222.3v-7M1487.1 2222.3v-7M1528.1 2222.3v-7"/>
</g>
<g font-family="Liberation Sans, Arial, sans-serif" font-size="22" fill="#000">
<text x="943.8" y="2229.9" text-anchor="end">0</text>
<text x="943.8" y="2152.5" text-anchor="end">20</text>
<text x="943.8" y="2075.2" text-anchor="end">40</text>
<text x="943.8" y="1997.8" text-anchor="end">60</text>
<text x="943.8" y="1920.5" text-anchor="end">80</text>
<text x="943.8" y="1843.1" text-anchor="end">100</text>
<text x="943.8" y="1765.7" text-anchor="end">120</text>
<text x="943.8" y="1688.4" text-anchor="end">140</text>
<text x="953.8" y="2243.8" text-anchor="middle">0</text>
<text x="1158.9" y="2243.8" text-anchor="middle">50</text>
<text x="1364" y="2243.8" text-anchor="middle">100</text>
<text x="1569.1" y="2243.8" text-anchor="middle">150</text>
</g>
<text x="1261.5" y="2267" text-anchor="middle" font-family="Liberation Sans, Arial, sans-serif" font-weight="bold" font-size="26">X(m)</text>
<text transform="translate(899.8 1951.5) rotate(-90)" text-anchor="middle" font-family="Liberation Sans, Arial, sans-serif" font-weight="bold" font-size="26">Y(m)</text>
<rect x="1529.5" y="1612.2" width="138.9" height="243.2" fill="#fff" stroke="#777" stroke-width="1.4"/>
<text x="1584.5" y="1636.3" font-family="Liberation Sans, Arial, sans-serif" font-size="18.3">SYY(Pa)</text>
<rect x="1541.8" y="1647.9" width="26.6" height="10.4" fill="#fde725" stroke="#222" stroke-width="1"/>
<rect x="1541.8" y="1658.3" width="26.6" height="20.6" fill="#b5de2b" stroke="#222" stroke-width="1"/>
<rect x="1541.8" y="1678.9" width="26.6" height="20.6" fill="#6ece58" stroke="#222" stroke-width="1"/>
<rect x="1541.8" y="1699.5" width="26.6" height="20.6" fill="#35b779" stroke="#222" stroke-width="1"/>
<rect x="1541.8" y="1720.1" width="26.6" height="20.6" fill="#1f9e89" stroke="#222" stroke-width="1"/>
<rect x="1541.8" y="1740.7" width="26.6" height="20.6" fill="#26828e" stroke="#222" stroke-width="1"/>
<rect x="1541.8" y="1761.3" width="26.6" height="20.6" fill="#31688e" stroke="#222" stroke-width="1"/>
<rect x="1541.8" y="1781.9" width="26.6" height="20.6" fill="#3e4989" stroke="#222" stroke-width="1"/>
<rect x="1541.8" y="1802.5" width="26.6" height="20.6" fill="#482878" stroke="#222" stroke-width="1"/>
<rect x="1541.8" y="1823.1" width="26.6" height="10.3" fill="#440154" stroke="#222" stroke-width="1"/>
<g font-family="Liberation Sans, Arial, sans-serif" font-size="18">
<text x="1583.3" y="1666.9">0</text>
<text x="1576.3" y="1687.5">-500000</text>
<text x="1576.3" y="1708.1">-1E+06</text>
<text x="1576.3" y="1728.7">-1.5E+06</text>
<text x="1576.3" y="1749.3">-2E+06</text>
<text x="1576.3" y="1769.9">-2.5E+06</text>
<text x="1576.3" y="1790.5">-3E+06</text>
<text x="1576.3" y="1811.1">-3.5E+06</text>
<text x="1576.3" y="1831.7">-4E+06</text>
</g>
<rect x="7.9" y="1611" width="1661.9" height="686.7" fill="none" stroke="#2a5298" stroke-width="5.2" stroke-dasharray="22.2 18.5" stroke-dashoffset="36"/>
<text y="2348" font-family="Liberation Serif, 'Times New Roman', serif" font-size="43"><tspan x="667.1">(</tspan><tspan x="683.6">c</tspan><tspan x="705.6">)</tspan></text>
<text x="745.9" y="2348" font-family="Liberation Serif, 'Times New Roman', serif" font-size="43">Advancing 30 m</text>
</svg>
</body></html>
